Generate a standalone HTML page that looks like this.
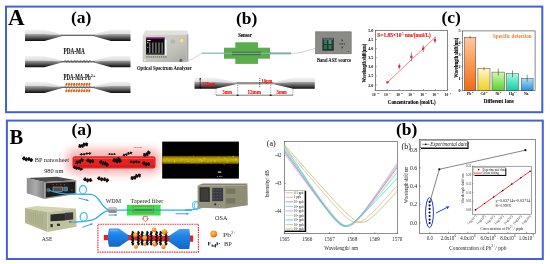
<!DOCTYPE html>
<html><head><meta charset="utf-8">
<style>
html,body{margin:0;padding:0;background:#fff;width:550px;height:264px;overflow:hidden}
svg{display:block;filter:blur(0.35px)}
text{font-family:"Liberation Serif",serif}
.b{font-weight:bold}
.s{font-family:"Liberation Sans",sans-serif}
</style></head><body>
<svg width="550" height="264" viewBox="0 0 550 264">
<defs>
<linearGradient id="fib" x1="0" y1="0" x2="0" y2="1">
<stop offset="0" stop-color="#f2f2f2"/><stop offset="0.38" stop-color="#d6d6d6"/><stop offset="0.55" stop-color="#9a9a9a"/><stop offset="1" stop-color="#141414"/>
</linearGradient>
<linearGradient id="fibU" x1="0" y1="0" x2="0" y2="1"><stop offset="0" stop-color="#f4f4f4"/><stop offset="1" stop-color="#d4d4d4"/></linearGradient>
<linearGradient id="fibL" x1="0" y1="0" x2="0" y2="1"><stop offset="0" stop-color="#a8a8a8"/><stop offset="0.5" stop-color="#5a5a5a"/><stop offset="1" stop-color="#0c0c0c"/></linearGradient>
<linearGradient id="osaF" x1="0" y1="0" x2="1" y2="1"><stop offset="0" stop-color="#d8d8d2"/><stop offset="0.6" stop-color="#c4c4be"/><stop offset="1" stop-color="#a8a8a2"/></linearGradient>
<linearGradient id="bar1" x1="0" y1="0" x2="0" y2="1"><stop offset="0" stop-color="#ffc9a0"/><stop offset="1" stop-color="#f26a10"/></linearGradient>
<linearGradient id="bar2" x1="0" y1="0" x2="0" y2="1"><stop offset="0" stop-color="#fff6c8"/><stop offset="1" stop-color="#f0d020"/></linearGradient>
<linearGradient id="bar3" x1="0" y1="0" x2="0" y2="1"><stop offset="0" stop-color="#d8f8b0"/><stop offset="1" stop-color="#58d030"/></linearGradient>
<linearGradient id="bar4" x1="0" y1="0" x2="0" y2="1"><stop offset="0" stop-color="#a8f8e0"/><stop offset="1" stop-color="#10d0a0"/></linearGradient>
<linearGradient id="bar5" x1="0" y1="0" x2="0" y2="1"><stop offset="0" stop-color="#b0e0f8"/><stop offset="1" stop-color="#2890e0"/></linearGradient>
</defs>

<rect x="6" y="6.6" width="536.3" height="105.6" fill="none" stroke="#4361d8" stroke-width="2"/>
<rect x="6.9" y="120.6" width="535.9" height="138.4" fill="none" stroke="#4361d8" stroke-width="2"/>
<text x="8" y="24.6" font-size="23" class="b">A</text>
<text x="9.6" y="143.5" font-size="20.5" class="b">B</text>
<text x="71" y="23.2" font-size="17.5" class="b">(a)</text>
<text x="236" y="24" font-size="17.5" class="b">(b)</text>
<text x="441.5" y="23.2" font-size="17.5" class="b">(c)</text>
<text x="71.5" y="135.2" font-size="17.5" class="b">(a)</text>
<text x="396" y="135" font-size="17.5" class="b">(b)</text>
<path d="M25,29.70 L44.5,29.70 L62.5,34.55 L93,34.55 L111,29.70 L130.5,29.70 L130.5,34.10 L111,34.10 L93,35.30 L62.5,35.30 L44.5,34.10 L25,34.10 Z" fill="url(#fibU)"/><path d="M25,34.10 L44.5,34.10 L62.5,35.30 L93,35.30 L111,34.10 L130.5,34.10 L130.5,40.90 L111,40.90 L93,36.05 L62.5,36.05 L44.5,40.90 L25,40.90 Z" fill="url(#fibL)"/><line x1="60.5" y1="35.30" x2="95" y2="35.30" stroke="#6a6a6a" stroke-width="1.35"/>
<path d="M25,56.00 L44.5,56.00 L62.5,60.85 L93,60.85 L111,56.00 L130.5,56.00 L130.5,60.40 L111,60.40 L93,61.60 L62.5,61.60 L44.5,60.40 L25,60.40 Z" fill="url(#fibU)"/><path d="M25,60.40 L44.5,60.40 L62.5,61.60 L93,61.60 L111,60.40 L130.5,60.40 L130.5,67.20 L111,67.20 L93,62.35 L62.5,62.35 L44.5,67.20 L25,67.20 Z" fill="url(#fibL)"/><line x1="60.5" y1="61.60" x2="95" y2="61.60" stroke="#6a6a6a" stroke-width="1.35"/>
<path d="M25,81.70 L44.5,81.70 L62.5,86.55 L93,86.55 L111,81.70 L130.5,81.70 L130.5,86.10 L111,86.10 L93,87.30 L62.5,87.30 L44.5,86.10 L25,86.10 Z" fill="url(#fibU)"/><path d="M25,86.10 L44.5,86.10 L62.5,87.30 L93,87.30 L111,86.10 L130.5,86.10 L130.5,92.90 L111,92.90 L93,88.05 L62.5,88.05 L44.5,92.90 L25,92.90 Z" fill="url(#fibL)"/><line x1="60.5" y1="87.30" x2="95" y2="87.30" stroke="#6a6a6a" stroke-width="1.35"/>
<text x="63.6" y="54.3" font-size="7.4" class="b" textLength="21.2" lengthAdjust="spacingAndGlyphs" fill="#111" stroke="#111" stroke-width="0.12">PDA-MA</text>
<text x="63.6" y="79.6" font-size="7.4" class="b" textLength="27" lengthAdjust="spacingAndGlyphs" fill="#111" stroke="#111" stroke-width="0.12">PDA-MA-Pb</text>
<text x="90.8" y="76.6" font-size="4.2" class="b">2+</text>
<polyline points="64.30,61.40 64.55,60.77 64.80,60.30 65.05,60.10 65.30,60.23 65.55,60.66 65.80,61.27 66.05,61.91 66.30,62.43 66.55,62.69 66.80,62.62 67.05,62.25 67.30,61.66 67.55,61.01 67.80,60.46 68.05,60.14 68.30,60.14 68.55,60.46 68.80,61.01 69.05,61.66 69.30,62.25 69.55,62.62 69.80,62.69 70.05,62.43 70.30,61.91 70.55,61.27 70.80,60.66 71.05,60.23 71.30,60.10 71.55,60.30 71.80,60.77 72.05,61.40 72.30,62.03 72.55,62.50 72.80,62.70 73.05,62.57 73.30,62.14 73.55,61.53 73.80,60.89 74.05,60.37 74.30,60.11 74.55,60.18 74.80,60.55 75.05,61.14 75.30,61.79 75.55,62.34 75.80,62.66 76.05,62.66 76.30,62.34 76.55,61.79 76.80,61.14 77.05,60.55 77.30,60.18 77.55,60.11 77.80,60.37 78.05,60.89 78.30,61.53 78.55,62.14 78.80,62.57 79.05,62.70 79.30,62.50 79.55,62.03 79.80,61.40 80.05,60.77 80.30,60.30 80.55,60.10 80.80,60.23 81.05,60.66 81.30,61.27 81.55,61.91 81.80,62.43 82.05,62.69 82.30,62.62 82.55,62.25 82.80,61.66 83.05,61.01 83.30,60.46 83.55,60.14 83.80,60.14 84.05,60.46 84.30,61.01 84.55,61.66 84.80,62.25 85.05,62.62 85.30,62.69 85.55,62.43 85.80,61.91 86.05,61.27 86.30,60.66 86.55,60.23 86.80,60.10 87.05,60.30 87.30,60.77 87.55,61.40 87.80,62.03 88.05,62.50 88.30,62.70 88.55,62.57 88.80,62.14 89.05,61.53 89.30,60.89 89.55,60.37 89.80,60.11 90.05,60.18 90.30,60.55 90.55,61.14" fill="none" stroke="#585858" stroke-width="0.55"/>
<circle cx="67" cy="60.5" r="0.45" fill="#3a8a4a"/>
<circle cx="71.5" cy="62.6" r="0.45" fill="#c83828"/>
<circle cx="75.8" cy="60.5" r="0.45" fill="#c83828"/>
<circle cx="80.2" cy="62.6" r="0.45" fill="#3a8a4a"/>
<circle cx="84.6" cy="60.5" r="0.45" fill="#c83828"/>
<circle cx="88.5" cy="62.6" r="0.45" fill="#c83828"/>
<polyline points="64.30,87.40 64.55,86.82 64.80,86.38 65.05,86.20 65.30,86.32 65.55,86.71 65.80,87.28 66.05,87.87 66.30,88.35 66.55,88.59 66.80,88.53 67.05,88.18 67.30,87.64 67.55,87.04 67.80,86.53 68.05,86.24 68.30,86.24 68.55,86.53 68.80,87.04 69.05,87.64 69.30,88.18 69.55,88.53 69.80,88.59 70.05,88.35 70.30,87.87 70.55,87.28 70.80,86.71 71.05,86.32 71.30,86.20 71.55,86.38 71.80,86.82 72.05,87.40 72.30,87.98 72.55,88.42 72.80,88.60 73.05,88.48 73.30,88.09 73.55,87.52 73.80,86.93 74.05,86.45 74.30,86.21 74.55,86.27 74.80,86.62 75.05,87.16 75.30,87.76 75.55,88.27 75.80,88.56 76.05,88.56 76.30,88.27 76.55,87.76 76.80,87.16 77.05,86.62 77.30,86.27 77.55,86.21 77.80,86.45 78.05,86.93 78.30,87.52 78.55,88.09 78.80,88.48 79.05,88.60 79.30,88.42 79.55,87.98 79.80,87.40 80.05,86.82 80.30,86.38 80.55,86.20 80.80,86.32 81.05,86.71 81.30,87.28 81.55,87.87 81.80,88.35 82.05,88.59 82.30,88.53 82.55,88.18 82.80,87.64 83.05,87.04 83.30,86.53 83.55,86.24 83.80,86.24 84.05,86.53 84.30,87.04 84.55,87.64 84.80,88.18 85.05,88.53 85.30,88.59 85.55,88.35 85.80,87.87 86.05,87.28 86.30,86.71 86.55,86.32 86.80,86.20 87.05,86.38 87.30,86.82 87.55,87.40 87.80,87.98 88.05,88.42 88.30,88.60 88.55,88.48 88.80,88.09 89.05,87.52 89.30,86.93 89.55,86.45 89.80,86.21 90.05,86.27 90.30,86.62 90.55,87.16" fill="none" stroke="#606060" stroke-width="0.5"/>
<ellipse cx="66.40" cy="84.3" rx="1.05" ry="1.6" fill="#d4681a" transform="rotate(20 66.40 84.3)"/>
<ellipse cx="68.95" cy="84.3" rx="1.05" ry="1.6" fill="#d4681a" transform="rotate(20 68.95 84.3)"/>
<ellipse cx="71.50" cy="84.3" rx="1.05" ry="1.6" fill="#d4681a" transform="rotate(20 71.50 84.3)"/>
<ellipse cx="74.05" cy="84.3" rx="1.05" ry="1.6" fill="#d4681a" transform="rotate(20 74.05 84.3)"/>
<ellipse cx="76.60" cy="84.3" rx="1.05" ry="1.6" fill="#d4681a" transform="rotate(20 76.60 84.3)"/>
<ellipse cx="79.15" cy="84.3" rx="1.05" ry="1.6" fill="#d4681a" transform="rotate(20 79.15 84.3)"/>
<ellipse cx="81.70" cy="84.3" rx="1.05" ry="1.6" fill="#d4681a" transform="rotate(20 81.70 84.3)"/>
<ellipse cx="84.25" cy="84.3" rx="1.05" ry="1.6" fill="#d4681a" transform="rotate(20 84.25 84.3)"/>
<ellipse cx="86.80" cy="84.3" rx="1.05" ry="1.6" fill="#d4681a" transform="rotate(20 86.80 84.3)"/>
<ellipse cx="89.35" cy="84.3" rx="1.05" ry="1.6" fill="#d4681a" transform="rotate(20 89.35 84.3)"/>
<ellipse cx="66.40" cy="90.7" rx="1.05" ry="1.6" fill="#d4681a" transform="rotate(20 66.40 90.7)"/>
<ellipse cx="68.95" cy="90.7" rx="1.05" ry="1.6" fill="#d4681a" transform="rotate(20 68.95 90.7)"/>
<ellipse cx="71.50" cy="90.7" rx="1.05" ry="1.6" fill="#d4681a" transform="rotate(20 71.50 90.7)"/>
<ellipse cx="74.05" cy="90.7" rx="1.05" ry="1.6" fill="#d4681a" transform="rotate(20 74.05 90.7)"/>
<ellipse cx="76.60" cy="90.7" rx="1.05" ry="1.6" fill="#d4681a" transform="rotate(20 76.60 90.7)"/>
<ellipse cx="79.15" cy="90.7" rx="1.05" ry="1.6" fill="#d4681a" transform="rotate(20 79.15 90.7)"/>
<ellipse cx="81.70" cy="90.7" rx="1.05" ry="1.6" fill="#d4681a" transform="rotate(20 81.70 90.7)"/>
<ellipse cx="84.25" cy="90.7" rx="1.05" ry="1.6" fill="#d4681a" transform="rotate(20 84.25 90.7)"/>
<ellipse cx="86.80" cy="90.7" rx="1.05" ry="1.6" fill="#d4681a" transform="rotate(20 86.80 90.7)"/>
<ellipse cx="89.35" cy="90.7" rx="1.05" ry="1.6" fill="#d4681a" transform="rotate(20 89.35 90.7)"/>
<path d="M143.5,34.6 L145,30.6 L187.2,30.6 L188.4,34.6 Z" fill="#e2e2dc"/>
<rect x="142.7" y="34.5" width="44" height="27.6" fill="url(#osaF)"/>
<path d="M186.6,34.5 L188.4,34.6 L188.4,61.6 L186.6,62.1 Z" fill="#a8a8a2"/>
<rect x="146.1" y="37.5" width="18.5" height="17.1" fill="#0a0a0a"/>
<rect x="146.1" y="37.5" width="18.5" height="1.0" fill="#e020c0"/>
<g fill="#8a8a8a"><rect x="149.0" y="42.5" width="1.4" height="10.5" opacity="0.85"/><rect x="152.1" y="42.5" width="1.4" height="10.5" opacity="0.85"/><rect x="155.2" y="42.5" width="1.4" height="10.5" opacity="0.85"/><rect x="158.3" y="42.5" width="1.4" height="10.5" opacity="0.85"/><rect x="161.4" y="42.5" width="1.4" height="10.5" opacity="0.85"/></g>
<rect x="147.2" y="40" width="3.5" height="1" fill="#e0e0e0"/><rect x="147.2" y="42" width="1.2" height="1.2" fill="#d0d0d0"/><rect x="147.2" y="47" width="1.2" height="0.8" fill="#b0b0b0"/>
<rect x="147" y="53.6" width="17" height="0.6" fill="#707070"/>
<rect x="164.8" y="39.6" width="1.8" height="15.7" fill="#f4f4f4"/>
<circle cx="181.6" cy="40.6" r="2.5" fill="#e8e0a0" stroke="#b0a870" stroke-width="0.5"/>
<circle cx="172.8" cy="41.6" r="1.8" fill="#b8b8b2" stroke="#a0a09a" stroke-width="0.4"/>
<g fill="#555"><rect x="146.3" y="56.4" width="1.3" height="1.1"/><rect x="148.4" y="56.4" width="1.3" height="1.1"/><rect x="150.5" y="56.4" width="1.3" height="1.1"/><rect x="152.6" y="56.4" width="1.3" height="1.1"/><rect x="154.7" y="56.4" width="1.3" height="1.1"/><rect x="156.8" y="56.4" width="1.3" height="1.1"/><rect x="158.9" y="56.4" width="1.3" height="1.1"/><rect x="161.0" y="56.4" width="1.3" height="1.1"/><rect x="163.1" y="56.4" width="1.3" height="1.1"/><rect x="165.2" y="56.4" width="1.3" height="1.1"/></g>
<circle cx="144.9" cy="60" r="1" fill="#f0f0c0"/>
<circle cx="180.9" cy="60.4" r="1.6" fill="#606060"/>
<text x="136.9" y="70.4" font-size="6.4" class="b" textLength="54.9" lengthAdjust="spacingAndGlyphs">Optical Spectrum Analyzer</text>
<path d="M182,61 C190,62 195,57 201.8,53.3" fill="none" stroke="#b8c0c0" stroke-width="0.7"/>
<line x1="201.8" y1="53.3" x2="291" y2="53.3" stroke="#9cc0c8" stroke-width="1.5"/>
<line x1="270" y1="53.5" x2="291" y2="53.5" stroke="#80b0a8" stroke-width="1.8"/>
<path d="M291,53.4 C300,53.5 306,51 316,48" fill="none" stroke="#b8c0c0" stroke-width="0.7"/>
<text x="238.2" y="37.3" font-size="5.6" class="b" textLength="13.6" lengthAdjust="spacingAndGlyphs" stroke="#000" stroke-width="0.12">Sensor</text>
<rect x="224" y="47.7" width="46" height="11" fill="#5aac4c"/>
<rect x="235.3" y="42.3" width="22.7" height="21.6" fill="#5aac4c"/>
<rect x="232" y="51.6" width="29" height="3.6" fill="#3c6a34" opacity="0.8"/>
<line x1="224" y1="53.3" x2="270" y2="53.3" stroke="#8cb8c0" stroke-width="0.9"/>
<rect x="315.6" y="31.8" width="35.6" height="22" fill="#8a8a86" stroke="#6a6a66" stroke-width="0.6"/>
<rect x="322.4" y="37.9" width="11.4" height="12.9" fill="#2a3430"/>
<rect x="324" y="40" width="3" height="4" fill="#2c7a58"/><rect x="328.5" y="40" width="3" height="4" fill="#5a8a80"/>
<rect x="324" y="45" width="3" height="4" fill="#2a7050"/><rect x="328.5" y="45" width="3" height="4" fill="#2a7a5a"/>
<rect x="323.2" y="38.6" width="9.8" height="0.8" fill="#9ab0b0"/>
<g fill="#333"><rect x="341.6" y="39.5" width="1.2" height="1.8"/><rect x="339.5" y="43.3" width="1.2" height="1.2"/><rect x="341.6" y="43.3" width="1.2" height="1.2"/><rect x="343.7" y="43.3" width="1.2" height="1.2"/><rect x="341.6" y="46.5" width="1.2" height="1.8"/><rect x="348.2" y="51" width="0.8" height="0.8"/></g>
<text x="317" y="62.1" font-size="6.4" class="b" textLength="34" lengthAdjust="spacingAndGlyphs">Band ASE source</text>
<path d="M194.5,77.80 L215.5,77.80 L237.1,82.50 L272.8,82.50 L293.2,77.80 L314.8,77.80 L314.8,82.00 L293.2,82.00 L272.8,83.30 L237.1,83.30 L215.5,82.00 L194.5,82.00 Z" fill="url(#fibU)"/><path d="M194.5,82.00 L215.5,82.00 L237.1,83.30 L272.8,83.30 L293.2,82.00 L314.8,82.00 L314.8,88.80 L293.2,88.80 L272.8,84.10 L237.1,84.10 L215.5,88.80 L194.5,88.80 Z" fill="url(#fibL)"/><line x1="235.1" y1="83.30" x2="274.8" y2="83.30" stroke="#9a9a9a" stroke-width="1.44"/>
<line x1="237" y1="82.5" x2="273" y2="82.5" stroke="#555" stroke-width="0.4"/><line x1="237" y1="84.1" x2="273" y2="84.1" stroke="#555" stroke-width="0.4"/>
<path d="M236.3,95.2 L237.7,94.4 L239.1,95.2 L237.7,96 Z M269.3,95.2 L270.7,94.4 L272.1,95.2 L270.7,96 Z" fill="#111"/>
<line x1="200.2" y1="78" x2="200.2" y2="88.6" stroke="#000" stroke-width="0.6"/>
<path d="M199.3,79.3 L200.2,77.8 L201.1,79.3 Z M199.3,87.3 L200.2,88.8 L201.1,87.3 Z" fill="#000"/>
<text x="202" y="85.9" font-size="5.4" class="b" fill="#ee1111" stroke="#ee1111" stroke-width="0.15" textLength="13.3" lengthAdjust="spacingAndGlyphs">125μm</text>
<line x1="259.8" y1="78" x2="259.8" y2="88" stroke="#000" stroke-width="0.6" stroke-dasharray="1.2,0.8"/>
<text x="261.4" y="82.6" font-size="5.4" class="b" fill="#ee1111" stroke="#ee1111" stroke-width="0.15" textLength="10.8" lengthAdjust="spacingAndGlyphs">10μm</text>
<line x1="216" y1="85" x2="216" y2="95.3" stroke="#333" stroke-width="0.5" stroke-dasharray="1,0.8"/>
<line x1="237.7" y1="85" x2="237.7" y2="95.3" stroke="#333" stroke-width="0.5" stroke-dasharray="1,0.8"/>
<line x1="270.7" y1="85" x2="270.7" y2="95.3" stroke="#333" stroke-width="0.5" stroke-dasharray="1,0.8"/>
<line x1="292.9" y1="85" x2="292.9" y2="95.3" stroke="#333" stroke-width="0.5" stroke-dasharray="1,0.8"/>
<line x1="216" y1="95.2" x2="293" y2="95.2" stroke="#222" stroke-width="0.6"/>
<text x="222.5" y="93.7" font-size="5.4" class="b" fill="#ee1111" stroke="#ee1111" stroke-width="0.15" textLength="9.5" lengthAdjust="spacingAndGlyphs">3mm</text>
<text x="247.4" y="93.7" font-size="5.4" class="b" fill="#ee1111" stroke="#ee1111" stroke-width="0.15" textLength="13.5" lengthAdjust="spacingAndGlyphs">12mm</text>
<text x="276.6" y="93.7" font-size="5.4" class="b" fill="#ee1111" stroke="#ee1111" stroke-width="0.15" textLength="10.2" lengthAdjust="spacingAndGlyphs">3mm</text>
<rect x="375.5" y="30.5" width="72" height="60" fill="none" stroke="#555" stroke-width="0.7"/>
<line x1="375.5" y1="30.4" x2="377" y2="30.4" stroke="#555" stroke-width="0.5"/>
<text x="373.4" y="31.9" font-size="4.2" class="b" text-anchor="end">5.0</text>
<line x1="375.5" y1="39.5" x2="377" y2="39.5" stroke="#555" stroke-width="0.5"/>
<text x="373.4" y="41.0" font-size="4.2" class="b" text-anchor="end">4.5</text>
<line x1="375.5" y1="48.6" x2="377" y2="48.6" stroke="#555" stroke-width="0.5"/>
<text x="373.4" y="50.1" font-size="4.2" class="b" text-anchor="end">4.0</text>
<line x1="375.5" y1="57.7" x2="377" y2="57.7" stroke="#555" stroke-width="0.5"/>
<text x="373.4" y="59.2" font-size="4.2" class="b" text-anchor="end">3.5</text>
<line x1="375.5" y1="66.8" x2="377" y2="66.8" stroke="#555" stroke-width="0.5"/>
<text x="373.4" y="68.3" font-size="4.2" class="b" text-anchor="end">3.0</text>
<line x1="375.5" y1="75.9" x2="377" y2="75.9" stroke="#555" stroke-width="0.5"/>
<text x="373.4" y="77.4" font-size="4.2" class="b" text-anchor="end">2.5</text>
<line x1="375.5" y1="85.0" x2="377" y2="85.0" stroke="#555" stroke-width="0.5"/>
<text x="373.4" y="86.5" font-size="4.2" class="b" text-anchor="end">2.0</text>
<line x1="375.0" y1="90.5" x2="375.0" y2="89" stroke="#555" stroke-width="0.5"/>
<text x="373.8" y="95.6" font-size="3.6" class="b" text-anchor="middle">10</text><text x="376.4" y="93.6" font-size="2.2" class="b">-10</text>
<line x1="387.1" y1="90.5" x2="387.1" y2="89" stroke="#555" stroke-width="0.5"/>
<text x="385.9" y="95.6" font-size="3.6" class="b" text-anchor="middle">10</text><text x="388.5" y="93.6" font-size="2.2" class="b">-9</text>
<line x1="399.2" y1="90.5" x2="399.2" y2="89" stroke="#555" stroke-width="0.5"/>
<text x="398.0" y="95.6" font-size="3.6" class="b" text-anchor="middle">10</text><text x="400.6" y="93.6" font-size="2.2" class="b">-8</text>
<line x1="411.3" y1="90.5" x2="411.3" y2="89" stroke="#555" stroke-width="0.5"/>
<text x="410.1" y="95.6" font-size="3.6" class="b" text-anchor="middle">10</text><text x="412.7" y="93.6" font-size="2.2" class="b">-7</text>
<line x1="423.4" y1="90.5" x2="423.4" y2="89" stroke="#555" stroke-width="0.5"/>
<text x="422.2" y="95.6" font-size="3.6" class="b" text-anchor="middle">10</text><text x="424.8" y="93.6" font-size="2.2" class="b">-6</text>
<line x1="435.5" y1="90.5" x2="435.5" y2="89" stroke="#555" stroke-width="0.5"/>
<text x="434.3" y="95.6" font-size="3.6" class="b" text-anchor="middle">10</text><text x="436.9" y="93.6" font-size="2.2" class="b">-5</text>
<line x1="447.6" y1="90.5" x2="447.6" y2="89" stroke="#555" stroke-width="0.5"/>
<text x="446.4" y="95.6" font-size="3.6" class="b" text-anchor="middle">10</text><text x="449.0" y="93.6" font-size="2.2" class="b">-4</text>
<text transform="translate(365.5,63.1) rotate(-90)" font-size="5.8" class="b" text-anchor="middle" textLength="38.7" lengthAdjust="spacingAndGlyphs" stroke="#000" stroke-width="0.1">Wavelength shift(nm)</text>
<text x="387.8" y="103.6" font-size="5.8" class="b" textLength="47.9" lengthAdjust="spacingAndGlyphs" stroke="#000" stroke-width="0.1">Concentration (mol/L)</text>
<line x1="386.8" y1="83" x2="435.7" y2="36.8" stroke="#f03030" stroke-width="0.6"/>
<rect x="386.4" y="81.2" width="2.2" height="2.2" fill="#e02020"/>
<line x1="399.3" y1="63.650000000000006" x2="399.3" y2="69.15" stroke="#3060c0" stroke-width="0.7"/>
<rect x="398.2" y="65.30000000000001" width="2.2" height="2.2" fill="#e02020"/>
<line x1="411.4" y1="52.449999999999996" x2="411.4" y2="61.15" stroke="#3060c0" stroke-width="0.7"/>
<rect x="410.29999999999995" y="55.699999999999996" width="2.2" height="2.2" fill="#e02020"/>
<line x1="423.2" y1="45.2" x2="423.2" y2="52.0" stroke="#3060c0" stroke-width="0.7"/>
<rect x="422.09999999999997" y="47.5" width="2.2" height="2.2" fill="#e02020"/>
<line x1="435" y1="37.0" x2="435" y2="43.400000000000006" stroke="#3060c0" stroke-width="0.7"/>
<rect x="433.9" y="39.1" width="2.2" height="2.2" fill="#e02020"/>
<text x="377.3" y="37.2" font-size="5.2" class="b" fill="#ee1111" stroke="#ee1111" stroke-width="0.12" textLength="24.3" lengthAdjust="spacingAndGlyphs">S=1.85×10</text>
<text x="401.9" y="35" font-size="3.2" class="b" fill="#ee1111">5</text>
<text x="405.1" y="37.2" font-size="5.2" class="b" fill="#ee1111" stroke="#ee1111" stroke-width="0.12" textLength="25.6" lengthAdjust="spacingAndGlyphs">nm/(mol/L)</text>
<rect x="462.6" y="30.9" width="72.5" height="59.5" fill="none" stroke="#555" stroke-width="0.7"/>
<line x1="462.6" y1="90.4" x2="461.4" y2="90.4" stroke="#555" stroke-width="0.5"/>
<text x="460.6" y="91.9" font-size="4.2" class="b" text-anchor="end">0</text>
<line x1="462.6" y1="78.5" x2="461.4" y2="78.5" stroke="#555" stroke-width="0.5"/>
<text x="460.6" y="80.0" font-size="4.2" class="b" text-anchor="end">1</text>
<line x1="462.6" y1="66.6" x2="461.4" y2="66.6" stroke="#555" stroke-width="0.5"/>
<text x="460.6" y="68.1" font-size="4.2" class="b" text-anchor="end">2</text>
<line x1="462.6" y1="54.7" x2="461.4" y2="54.7" stroke="#555" stroke-width="0.5"/>
<text x="460.6" y="56.2" font-size="4.2" class="b" text-anchor="end">3</text>
<line x1="462.6" y1="42.8" x2="461.4" y2="42.8" stroke="#555" stroke-width="0.5"/>
<text x="460.6" y="44.3" font-size="4.2" class="b" text-anchor="end">4</text>
<line x1="462.6" y1="30.9" x2="461.4" y2="30.9" stroke="#555" stroke-width="0.5"/>
<text x="460.6" y="32.4" font-size="4.2" class="b" text-anchor="end">5</text>
<rect x="464.4" y="37.2" width="11.40" height="53.20" fill="url(#bar1)" stroke="#333" stroke-width="0.45"/>
<line x1="470.10" y1="35.88" x2="470.10" y2="38.52" stroke="#222" stroke-width="0.5"/>
<text x="469.1" y="95.2" font-size="3.8" class="b" text-anchor="middle">Pb</text><text x="471.9" y="93.4" font-size="2.3" class="b">2+</text>
<rect x="477.9" y="68.5" width="12.10" height="21.90" fill="url(#bar2)" stroke="#333" stroke-width="0.45"/>
<line x1="483.95" y1="66.74" x2="483.95" y2="70.26" stroke="#222" stroke-width="0.5"/>
<text x="482.9" y="95.2" font-size="3.8" class="b" text-anchor="middle">Cd</text><text x="485.8" y="93.4" font-size="2.3" class="b">2+</text>
<rect x="492" y="72.1" width="12.60" height="18.30" fill="url(#bar3)" stroke="#333" stroke-width="0.45"/>
<line x1="498.30" y1="68.58" x2="498.30" y2="75.62" stroke="#222" stroke-width="0.5"/>
<text x="497.3" y="95.2" font-size="3.8" class="b" text-anchor="middle">Ni</text><text x="500.1" y="93.4" font-size="2.3" class="b">2+</text>
<rect x="506.5" y="73.75" width="12.00" height="16.65" fill="url(#bar4)" stroke="#333" stroke-width="0.45"/>
<line x1="512.50" y1="70.45" x2="512.50" y2="77.05" stroke="#222" stroke-width="0.5"/>
<text x="511.5" y="95.2" font-size="3.8" class="b" text-anchor="middle">Hg</text><text x="514.3" y="93.4" font-size="2.3" class="b">2+</text>
<rect x="521.25" y="78.3" width="11.85" height="12.10" fill="url(#bar5)" stroke="#333" stroke-width="0.45"/>
<line x1="527.17" y1="74.78" x2="527.17" y2="81.82" stroke="#222" stroke-width="0.5"/>
<text x="526.2" y="95.2" font-size="3.8" class="b" text-anchor="middle">Na</text><text x="529.0" y="93.4" font-size="2.3" class="b">+</text>
<text x="483.8" y="103.3" font-size="5.6" class="b" textLength="30" lengthAdjust="spacingAndGlyphs" stroke="#000" stroke-width="0.1">Different Ions</text>
<text transform="translate(458.4,57.7) rotate(-90)" font-size="5.6" class="b" text-anchor="middle" textLength="40" lengthAdjust="spacingAndGlyphs" stroke="#000" stroke-width="0.1">Wavelength shift(nm)</text>
<text x="493" y="38.3" font-size="5.2" class="b" fill="#f08030" textLength="38.6" lengthAdjust="spacingAndGlyphs">Specific detection</text>
<defs><filter id="soft" x="-10%" y="-30%" width="120%" height="160%"><feGaussianBlur stdDeviation="0.7"/></filter><filter id="glow" x="-30%" y="-150%" width="160%" height="400%"><feGaussianBlur stdDeviation="4"/></filter><linearGradient id="cone" x1="0" y1="0" x2="0" y2="1"><stop offset="0" stop-color="#4aa0f0"/><stop offset="0.35" stop-color="#1e84e8"/><stop offset="1" stop-color="#1466c8"/></linearGradient><radialGradient id="ball" cx="0.4" cy="0.35" r="0.7"><stop offset="0" stop-color="#ffc860"/><stop offset="0.6" stop-color="#f09020"/><stop offset="1" stop-color="#c86010"/></radialGradient><linearGradient id="laserSide" x1="0" y1="0" x2="1" y2="0"><stop offset="0" stop-color="#8c8c8c"/><stop offset="0.5" stop-color="#ababab"/><stop offset="1" stop-color="#7a7a7a"/></linearGradient><linearGradient id="yband" x1="0" y1="0" x2="0" y2="1"><stop offset="0" stop-color="#2a1800"/><stop offset="0.13" stop-color="#9a6200"/><stop offset="0.3" stop-color="#a89c00"/><stop offset="0.5" stop-color="#b8b408"/><stop offset="0.7" stop-color="#a49a00"/><stop offset="0.87" stop-color="#9a6000"/><stop offset="1" stop-color="#2a1800"/></linearGradient></defs>
<rect x="66" y="149" width="95" height="25" rx="10" fill="#f04848" opacity="0.42" filter="url(#glow)"/>
<rect x="72.5" y="156.3" width="83" height="12.3" rx="2.5" fill="#e42424" filter="url(#soft)"/>
<rect x="74" y="157.8" width="80" height="1.2" fill="#ff6060" opacity="0.7"/>
<rect x="74" y="165.5" width="80" height="1" fill="#b01010" opacity="0.6"/>
<g transform="rotate(-20 83.3 145.2)"><line x1="78.80" y1="145.20" x2="87.80" y2="145.20" stroke="#111" stroke-width="1.46" stroke-linecap="round"/><ellipse cx="79.92" cy="144.86" rx="1.29" ry="2.07" fill="#111"/><ellipse cx="82.17" cy="145.54" rx="1.29" ry="2.07" fill="#111"/><ellipse cx="84.42" cy="144.86" rx="1.29" ry="2.07" fill="#111"/><ellipse cx="86.67" cy="145.54" rx="1.29" ry="2.07" fill="#111"/></g>
<g transform="rotate(-8 85.5 153.9)"><line x1="80.00" y1="153.90" x2="91.00" y2="153.90" stroke="#111" stroke-width="0.91" stroke-linecap="round"/><ellipse cx="81.38" cy="153.69" rx="0.81" ry="1.30" fill="#111"/><ellipse cx="84.12" cy="154.11" rx="0.81" ry="1.30" fill="#111"/><ellipse cx="86.88" cy="153.69" rx="0.81" ry="1.30" fill="#111"/><ellipse cx="89.62" cy="154.11" rx="0.81" ry="1.30" fill="#111"/></g>
<g transform="rotate(-25 79.6 161.5)"><line x1="75.60" y1="161.50" x2="83.60" y2="161.50" stroke="#111" stroke-width="1.46" stroke-linecap="round"/><ellipse cx="76.93" cy="161.16" rx="1.29" ry="2.07" fill="#111"/><ellipse cx="79.60" cy="161.84" rx="1.29" ry="2.07" fill="#111"/><ellipse cx="82.27" cy="161.16" rx="1.29" ry="2.07" fill="#111"/></g>
<g transform="rotate(10 90.2 161.0)"><line x1="86.70" y1="161.00" x2="93.70" y2="161.00" stroke="#111" stroke-width="1.46" stroke-linecap="round"/><ellipse cx="87.87" cy="160.66" rx="1.29" ry="2.07" fill="#111"/><ellipse cx="90.20" cy="161.34" rx="1.29" ry="2.07" fill="#111"/><ellipse cx="92.53" cy="160.66" rx="1.29" ry="2.07" fill="#111"/></g>
<g transform="rotate(20 104.0 163.3)"><line x1="99.50" y1="163.30" x2="108.50" y2="163.30" stroke="#111" stroke-width="1.46" stroke-linecap="round"/><ellipse cx="100.62" cy="162.96" rx="1.29" ry="2.07" fill="#111"/><ellipse cx="102.88" cy="163.64" rx="1.29" ry="2.07" fill="#111"/><ellipse cx="105.12" cy="162.96" rx="1.29" ry="2.07" fill="#111"/><ellipse cx="107.38" cy="163.64" rx="1.29" ry="2.07" fill="#111"/></g>
<g transform="rotate(-15 116.5 160.0)"><line x1="113.00" y1="160.00" x2="120.00" y2="160.00" stroke="#111" stroke-width="1.46" stroke-linecap="round"/><ellipse cx="114.17" cy="159.66" rx="1.29" ry="2.07" fill="#111"/><ellipse cx="116.50" cy="160.34" rx="1.29" ry="2.07" fill="#111"/><ellipse cx="118.83" cy="159.66" rx="1.29" ry="2.07" fill="#111"/></g>
<g transform="rotate(15 77.7 168.2)"><line x1="73.20" y1="168.20" x2="82.20" y2="168.20" stroke="#111" stroke-width="1.09" stroke-linecap="round"/><ellipse cx="74.33" cy="167.95" rx="0.97" ry="1.55" fill="#111"/><ellipse cx="76.58" cy="168.45" rx="0.97" ry="1.55" fill="#111"/><ellipse cx="78.83" cy="167.95" rx="0.97" ry="1.55" fill="#111"/><ellipse cx="81.08" cy="168.45" rx="0.97" ry="1.55" fill="#111"/></g>
<g transform="rotate(-20 127.5 154.0)"><line x1="122.70" y1="154.00" x2="132.20" y2="154.00" stroke="#111" stroke-width="1.00" stroke-linecap="round"/><ellipse cx="123.89" cy="153.77" rx="0.89" ry="1.42" fill="#111"/><ellipse cx="126.26" cy="154.23" rx="0.89" ry="1.42" fill="#111"/><ellipse cx="128.64" cy="153.77" rx="0.89" ry="1.42" fill="#111"/><ellipse cx="131.01" cy="154.23" rx="0.89" ry="1.42" fill="#111"/></g>
<g transform="rotate(-30 146.9 154.0)"><line x1="143.40" y1="154.00" x2="150.40" y2="154.00" stroke="#111" stroke-width="1.46" stroke-linecap="round"/><ellipse cx="144.57" cy="153.66" rx="1.29" ry="2.07" fill="#111"/><ellipse cx="146.90" cy="154.34" rx="1.29" ry="2.07" fill="#111"/><ellipse cx="149.23" cy="153.66" rx="1.29" ry="2.07" fill="#111"/></g>
<g transform="rotate(5 117.2 161.0)"><line x1="113.20" y1="161.00" x2="121.20" y2="161.00" stroke="#111" stroke-width="1.46" stroke-linecap="round"/><ellipse cx="114.53" cy="160.66" rx="1.29" ry="2.07" fill="#111"/><ellipse cx="117.20" cy="161.34" rx="1.29" ry="2.07" fill="#111"/><ellipse cx="119.87" cy="160.66" rx="1.29" ry="2.07" fill="#111"/></g>
<g transform="rotate(0 134.9 162.0)"><line x1="129.90" y1="162.00" x2="139.90" y2="162.00" stroke="#111" stroke-width="1.00" stroke-linecap="round"/><ellipse cx="131.15" cy="161.77" rx="0.89" ry="1.42" fill="#111"/><ellipse cx="133.65" cy="162.23" rx="0.89" ry="1.42" fill="#111"/><ellipse cx="136.15" cy="161.77" rx="0.89" ry="1.42" fill="#111"/><ellipse cx="138.65" cy="162.23" rx="0.89" ry="1.42" fill="#111"/></g>
<g transform="rotate(10 146.1 164.0)"><line x1="142.60" y1="164.00" x2="149.60" y2="164.00" stroke="#111" stroke-width="1.46" stroke-linecap="round"/><ellipse cx="143.77" cy="163.66" rx="1.29" ry="2.07" fill="#111"/><ellipse cx="146.10" cy="164.34" rx="1.29" ry="2.07" fill="#111"/><ellipse cx="148.43" cy="163.66" rx="1.29" ry="2.07" fill="#111"/></g>
<g transform="rotate(-25 135.7 176.8)"><line x1="130.70" y1="176.80" x2="140.70" y2="176.80" stroke="#111" stroke-width="1.46" stroke-linecap="round"/><ellipse cx="131.95" cy="176.46" rx="1.29" ry="2.07" fill="#111"/><ellipse cx="134.45" cy="177.14" rx="1.29" ry="2.07" fill="#111"/><ellipse cx="136.95" cy="176.46" rx="1.29" ry="2.07" fill="#111"/><ellipse cx="139.45" cy="177.14" rx="1.29" ry="2.07" fill="#111"/></g>
<g transform="rotate(0 112.0 154.2)"><line x1="108.50" y1="154.20" x2="115.50" y2="154.20" stroke="#111" stroke-width="0.73" stroke-linecap="round"/><ellipse cx="109.67" cy="154.03" rx="0.64" ry="1.04" fill="#111"/><ellipse cx="112.00" cy="154.37" rx="0.64" ry="1.04" fill="#111"/><ellipse cx="114.33" cy="154.03" rx="0.64" ry="1.04" fill="#111"/></g>
<g transform="rotate(8 87.7 180.0)"><line x1="83.70" y1="180.00" x2="91.70" y2="180.00" stroke="#111" stroke-width="1.46" stroke-linecap="round"/><ellipse cx="85.03" cy="179.66" rx="1.29" ry="2.07" fill="#111"/><ellipse cx="87.70" cy="180.34" rx="1.29" ry="2.07" fill="#111"/><ellipse cx="90.37" cy="179.66" rx="1.29" ry="2.07" fill="#111"/></g>
<g transform="rotate(10 103.1 179.3)"><line x1="97.60" y1="179.30" x2="108.60" y2="179.30" stroke="#111" stroke-width="1.46" stroke-linecap="round"/><ellipse cx="98.97" cy="178.96" rx="1.29" ry="2.07" fill="#111"/><ellipse cx="101.72" cy="179.64" rx="1.29" ry="2.07" fill="#111"/><ellipse cx="104.47" cy="178.96" rx="1.29" ry="2.07" fill="#111"/><ellipse cx="107.22" cy="179.64" rx="1.29" ry="2.07" fill="#111"/></g>
<g transform="rotate(8 78.4 168.4)"><line x1="73.90" y1="168.40" x2="82.90" y2="168.40" stroke="#111" stroke-width="0.82" stroke-linecap="round"/><ellipse cx="75.03" cy="168.21" rx="0.72" ry="1.17" fill="#111"/><ellipse cx="77.28" cy="168.59" rx="0.72" ry="1.17" fill="#111"/><ellipse cx="79.53" cy="168.21" rx="0.72" ry="1.17" fill="#111"/><ellipse cx="81.78" cy="168.59" rx="0.72" ry="1.17" fill="#111"/></g>
<g transform="rotate(0 137.9 147.5)"><line x1="133.90" y1="147.50" x2="141.90" y2="147.50" stroke="#888" stroke-width="0.46" stroke-linecap="round"/><ellipse cx="135.23" cy="147.40" rx="0.40" ry="0.65" fill="#888"/><ellipse cx="137.90" cy="147.60" rx="0.40" ry="0.65" fill="#888"/><ellipse cx="140.57" cy="147.40" rx="0.40" ry="0.65" fill="#888"/></g>
<g transform="rotate(8 27.6 159.2)"><line x1="22.60" y1="159.20" x2="32.60" y2="159.20" stroke="#111" stroke-width="1.46" stroke-linecap="round"/><ellipse cx="23.85" cy="158.86" rx="1.29" ry="2.07" fill="#111"/><ellipse cx="26.35" cy="159.54" rx="1.29" ry="2.07" fill="#111"/><ellipse cx="28.85" cy="158.86" rx="1.29" ry="2.07" fill="#111"/><ellipse cx="31.35" cy="159.54" rx="1.29" ry="2.07" fill="#111"/></g>
<text x="34.7" y="161.5" font-size="6.6" textLength="34.4" lengthAdjust="spacingAndGlyphs" fill="#222">BP nanosheet</text>
<text x="44.2" y="172.7" font-size="6.6" textLength="19.2" lengthAdjust="spacingAndGlyphs" fill="#222">980 nm</text>
<rect x="162.2" y="141.6" width="76.7" height="37" fill="#000"/>
<rect x="162.2" y="155.6" width="76.7" height="8.6" fill="url(#yband)"/>
<g><rect x="187.3" y="161.2" width="1.4" height="0.7" fill="#c8d020" opacity="0.45"/><rect x="206.7" y="161.7" width="0.8" height="0.7" fill="#d8e060" opacity="0.44"/><rect x="194.4" y="160.0" width="1.4" height="0.7" fill="#c8d020" opacity="0.46"/><rect x="179.7" y="161.8" width="1.2" height="0.7" fill="#a0a800" opacity="0.43"/><rect x="206.9" y="160.9" width="1.5" height="0.7" fill="#d8e060" opacity="0.54"/><rect x="173.8" y="160.2" width="1.2" height="0.7" fill="#c8d020" opacity="0.68"/><rect x="214.2" y="161.5" width="1.0" height="0.7" fill="#d8e040" opacity="0.67"/><rect x="167.7" y="161.1" width="1.2" height="0.7" fill="#c8d020" opacity="0.65"/><rect x="202.9" y="160.2" width="1.0" height="0.7" fill="#a8b000" opacity="0.52"/><rect x="176.5" y="158.2" width="0.7" height="0.7" fill="#d8e040" opacity="0.55"/><rect x="200.1" y="159.0" width="1.6" height="0.7" fill="#d8e060" opacity="0.46"/><rect x="194.4" y="161.3" width="0.8" height="0.7" fill="#c0c010" opacity="0.64"/><rect x="165.9" y="158.6" width="1.4" height="0.7" fill="#d8e060" opacity="0.81"/><rect x="188.5" y="157.7" width="1.2" height="0.7" fill="#c0c010" opacity="0.69"/><rect x="197.2" y="161.8" width="1.3" height="0.7" fill="#a8b000" opacity="0.43"/><rect x="217.8" y="156.9" width="1.2" height="0.7" fill="#c0c010" opacity="0.90"/><rect x="224.6" y="159.6" width="0.9" height="0.7" fill="#a0a800" opacity="0.87"/><rect x="189.7" y="161.3" width="0.7" height="0.7" fill="#d8e060" opacity="0.43"/><rect x="220.6" y="160.7" width="1.5" height="0.7" fill="#a8b000" opacity="0.65"/><rect x="175.5" y="160.7" width="1.1" height="0.7" fill="#a8b000" opacity="0.84"/><rect x="224.4" y="160.7" width="1.6" height="0.7" fill="#a8b000" opacity="0.74"/><rect x="191.5" y="159.0" width="0.8" height="0.7" fill="#d8e040" opacity="0.49"/><rect x="180.4" y="160.1" width="0.8" height="0.7" fill="#d8e060" opacity="0.54"/><rect x="173.9" y="161.6" width="1.0" height="0.7" fill="#d8e060" opacity="0.68"/><rect x="234.5" y="159.2" width="1.3" height="0.7" fill="#d8e060" opacity="0.77"/><rect x="197.2" y="158.2" width="1.4" height="0.7" fill="#a0a800" opacity="0.60"/><rect x="192.9" y="161.6" width="0.8" height="0.7" fill="#c8d020" opacity="0.89"/><rect x="196.0" y="161.2" width="0.9" height="0.7" fill="#c8d020" opacity="0.43"/><rect x="163.0" y="160.3" width="1.2" height="0.7" fill="#c0c010" opacity="0.44"/><rect x="178.6" y="160.5" width="0.7" height="0.7" fill="#a8b000" opacity="0.53"/><rect x="189.1" y="159.4" width="1.6" height="0.7" fill="#a8b000" opacity="0.63"/><rect x="199.3" y="160.5" width="0.7" height="0.7" fill="#c8d020" opacity="0.77"/><rect x="218.5" y="157.6" width="0.6" height="0.7" fill="#d8e060" opacity="0.88"/><rect x="202.6" y="160.2" width="1.3" height="0.7" fill="#d8e040" opacity="0.86"/><rect x="219.9" y="159.3" width="1.3" height="0.7" fill="#c8d020" opacity="0.53"/><rect x="190.5" y="162.0" width="1.0" height="0.7" fill="#d8e040" opacity="0.51"/><rect x="203.6" y="157.8" width="1.4" height="0.7" fill="#d8e060" opacity="0.89"/><rect x="226.9" y="159.9" width="1.4" height="0.7" fill="#d8e040" opacity="0.77"/><rect x="180.0" y="158.5" width="1.6" height="0.7" fill="#c8d020" opacity="0.80"/><rect x="198.4" y="159.7" width="1.3" height="0.7" fill="#d8e040" opacity="0.88"/><rect x="196.5" y="164.0" width="0.7" height="0.7" fill="#c0c010" opacity="0.45"/><rect x="198.3" y="158.2" width="0.8" height="0.7" fill="#c0c010" opacity="0.71"/><rect x="230.5" y="160.8" width="0.9" height="0.7" fill="#a0a800" opacity="0.72"/><rect x="225.6" y="158.5" width="1.5" height="0.7" fill="#c8d020" opacity="0.79"/><rect x="219.3" y="159.0" width="0.9" height="0.7" fill="#a0a800" opacity="0.80"/><rect x="235.9" y="160.0" width="1.1" height="0.7" fill="#a8b000" opacity="0.77"/><rect x="169.4" y="162.5" width="0.8" height="0.7" fill="#c8d020" opacity="0.85"/><rect x="223.5" y="163.9" width="1.2" height="0.7" fill="#d8e040" opacity="0.70"/><rect x="198.6" y="160.7" width="0.7" height="0.7" fill="#d8e060" opacity="0.41"/><rect x="235.8" y="159.6" width="0.7" height="0.7" fill="#a0a800" opacity="0.77"/><rect x="173.4" y="160.9" width="0.6" height="0.7" fill="#d8e040" opacity="0.51"/><rect x="200.6" y="159.8" width="0.9" height="0.7" fill="#d8e060" opacity="0.67"/><rect x="225.6" y="162.2" width="1.3" height="0.7" fill="#a8b000" opacity="0.81"/><rect x="201.8" y="160.8" width="0.7" height="0.7" fill="#d8e060" opacity="0.48"/><rect x="201.3" y="161.7" width="0.6" height="0.7" fill="#d8e060" opacity="0.80"/><rect x="175.9" y="158.0" width="1.2" height="0.7" fill="#a8b000" opacity="0.46"/><rect x="167.6" y="159.1" width="1.4" height="0.7" fill="#a8b000" opacity="0.45"/><rect x="205.0" y="158.2" width="0.8" height="0.7" fill="#d8e040" opacity="0.42"/><rect x="170.3" y="159.6" width="1.0" height="0.7" fill="#c8d020" opacity="0.71"/><rect x="200.9" y="160.0" width="0.8" height="0.7" fill="#d8e060" opacity="0.54"/><rect x="201.1" y="160.5" width="1.3" height="0.7" fill="#d8e040" opacity="0.84"/><rect x="233.7" y="158.2" width="1.5" height="0.7" fill="#c0c010" opacity="0.85"/><rect x="178.2" y="158.4" width="1.0" height="0.7" fill="#a8b000" opacity="0.44"/><rect x="181.0" y="160.4" width="0.8" height="0.7" fill="#c8d020" opacity="0.55"/><rect x="172.2" y="160.5" width="1.3" height="0.7" fill="#a0a800" opacity="0.47"/><rect x="229.2" y="156.4" width="0.8" height="0.7" fill="#a8b000" opacity="0.88"/><rect x="192.9" y="155.4" width="0.8" height="0.7" fill="#d8e040" opacity="0.62"/><rect x="201.7" y="160.3" width="1.0" height="0.7" fill="#c0c010" opacity="0.58"/><rect x="169.9" y="159.0" width="1.0" height="0.7" fill="#a8b000" opacity="0.41"/><rect x="187.9" y="160.9" width="0.9" height="0.7" fill="#d8e060" opacity="0.88"/><rect x="171.5" y="160.8" width="0.7" height="0.7" fill="#c8d020" opacity="0.54"/><rect x="230.9" y="159.4" width="0.9" height="0.7" fill="#d8e040" opacity="0.46"/><rect x="194.7" y="162.3" width="1.0" height="0.7" fill="#c0c010" opacity="0.67"/><rect x="201.6" y="158.4" width="1.3" height="0.7" fill="#a8b000" opacity="0.44"/><rect x="167.3" y="159.3" width="0.9" height="0.7" fill="#c8d020" opacity="0.41"/><rect x="169.6" y="158.4" width="0.7" height="0.7" fill="#c0c010" opacity="0.83"/><rect x="168.0" y="161.0" width="1.6" height="0.7" fill="#c0c010" opacity="0.61"/><rect x="231.7" y="158.6" width="0.7" height="0.7" fill="#d8e060" opacity="0.66"/><rect x="180.9" y="160.6" width="0.8" height="0.7" fill="#c8d020" opacity="0.87"/><rect x="210.2" y="160.5" width="1.4" height="0.7" fill="#d8e060" opacity="0.54"/><rect x="200.5" y="160.5" width="1.6" height="0.7" fill="#c8d020" opacity="0.42"/><rect x="164.4" y="161.1" width="1.2" height="0.7" fill="#d8e060" opacity="0.49"/><rect x="198.6" y="160.6" width="1.0" height="0.7" fill="#a0a800" opacity="0.65"/><rect x="225.6" y="159.6" width="1.6" height="0.7" fill="#a8b000" opacity="0.55"/><rect x="179.1" y="160.0" width="1.3" height="0.7" fill="#a0a800" opacity="0.47"/><rect x="237.2" y="160.9" width="1.4" height="0.7" fill="#c8d020" opacity="0.41"/><rect x="209.9" y="161.1" width="0.7" height="0.7" fill="#c8d020" opacity="0.82"/><rect x="228.3" y="158.8" width="1.6" height="0.7" fill="#a0a800" opacity="0.70"/><rect x="215.0" y="160.8" width="1.0" height="0.7" fill="#c0c010" opacity="0.53"/><rect x="235.1" y="160.2" width="0.9" height="0.7" fill="#d8e060" opacity="0.42"/><rect x="229.2" y="160.1" width="1.0" height="0.7" fill="#c0c010" opacity="0.64"/><rect x="200.7" y="160.8" width="0.8" height="0.7" fill="#d8e040" opacity="0.79"/><rect x="169.8" y="160.2" width="0.6" height="0.7" fill="#d8e060" opacity="0.41"/><rect x="185.8" y="159.1" width="0.7" height="0.7" fill="#d8e040" opacity="0.88"/><rect x="227.0" y="161.7" width="1.0" height="0.7" fill="#d8e060" opacity="0.56"/><rect x="236.9" y="162.5" width="0.9" height="0.7" fill="#d8e040" opacity="0.71"/><rect x="173.9" y="161.0" width="1.2" height="0.7" fill="#d8e060" opacity="0.77"/><rect x="223.9" y="157.8" width="1.5" height="0.7" fill="#d8e040" opacity="0.78"/><rect x="205.6" y="160.0" width="1.2" height="0.7" fill="#a0a800" opacity="0.85"/><rect x="214.2" y="159.7" width="1.2" height="0.7" fill="#a0a800" opacity="0.44"/><rect x="166.1" y="157.4" width="1.4" height="0.7" fill="#a8b000" opacity="0.68"/><rect x="210.1" y="157.0" width="1.1" height="0.7" fill="#a0a800" opacity="0.52"/><rect x="182.8" y="159.3" width="1.5" height="0.7" fill="#d8e060" opacity="0.45"/><rect x="202.4" y="160.1" width="1.3" height="0.7" fill="#a0a800" opacity="0.53"/><rect x="168.6" y="159.7" width="0.8" height="0.7" fill="#d8e040" opacity="0.72"/><rect x="197.5" y="162.3" width="0.7" height="0.7" fill="#a8b000" opacity="0.86"/><rect x="184.5" y="161.9" width="0.7" height="0.7" fill="#d8e040" opacity="0.47"/><rect x="182.0" y="160.5" width="1.3" height="0.7" fill="#a0a800" opacity="0.71"/><rect x="173.0" y="158.2" width="0.7" height="0.7" fill="#a0a800" opacity="0.51"/><rect x="199.7" y="160.1" width="1.1" height="0.7" fill="#a0a800" opacity="0.63"/><rect x="198.0" y="162.2" width="0.9" height="0.7" fill="#d8e040" opacity="0.44"/><rect x="198.5" y="162.1" width="1.1" height="0.7" fill="#c0c010" opacity="0.81"/><rect x="235.6" y="158.8" width="1.5" height="0.7" fill="#d8e040" opacity="0.87"/><rect x="168.6" y="160.3" width="0.7" height="0.7" fill="#c8d020" opacity="0.66"/><rect x="234.5" y="161.8" width="0.9" height="0.7" fill="#d8e060" opacity="0.46"/><rect x="190.4" y="162.0" width="1.5" height="0.7" fill="#a8b000" opacity="0.64"/><rect x="164.9" y="161.6" width="1.0" height="0.7" fill="#a8b000" opacity="0.76"/><rect x="194.2" y="159.9" width="0.9" height="0.7" fill="#a8b000" opacity="0.82"/><rect x="163.1" y="159.9" width="1.5" height="0.7" fill="#c8d020" opacity="0.50"/><rect x="163.9" y="157.0" width="0.9" height="0.7" fill="#a0a800" opacity="0.59"/><rect x="192.5" y="161.9" width="1.5" height="0.7" fill="#c0c010" opacity="0.78"/><rect x="227.1" y="159.9" width="0.7" height="0.7" fill="#c0c010" opacity="0.82"/><rect x="184.4" y="160.9" width="1.0" height="0.7" fill="#c0c010" opacity="0.56"/><rect x="221.0" y="159.5" width="1.5" height="0.7" fill="#a8b000" opacity="0.81"/><rect x="210.3" y="163.0" width="0.8" height="0.7" fill="#d8e060" opacity="0.44"/><rect x="233.0" y="158.1" width="1.1" height="0.7" fill="#a8b000" opacity="0.78"/><rect x="211.3" y="159.8" width="0.7" height="0.7" fill="#d8e060" opacity="0.64"/><rect x="188.8" y="160.4" width="0.9" height="0.7" fill="#c0c010" opacity="0.77"/><rect x="212.0" y="159.0" width="1.2" height="0.7" fill="#a8b000" opacity="0.60"/><rect x="175.5" y="160.5" width="0.7" height="0.7" fill="#d8e040" opacity="0.65"/><rect x="223.9" y="158.3" width="1.6" height="0.7" fill="#c0c010" opacity="0.62"/><rect x="173.5" y="159.4" width="0.8" height="0.7" fill="#d8e040" opacity="0.49"/><rect x="204.7" y="159.3" width="0.8" height="0.7" fill="#d8e060" opacity="0.41"/><rect x="228.3" y="161.2" width="1.0" height="0.7" fill="#a8b000" opacity="0.66"/><rect x="191.3" y="159.6" width="1.2" height="0.7" fill="#c0c010" opacity="0.58"/><rect x="214.5" y="160.4" width="1.2" height="0.7" fill="#d8e060" opacity="0.83"/><rect x="179.2" y="159.8" width="1.2" height="0.7" fill="#a8b000" opacity="0.62"/><rect x="186.4" y="161.0" width="0.7" height="0.7" fill="#c8d020" opacity="0.61"/><rect x="220.3" y="161.2" width="0.6" height="0.7" fill="#a8b000" opacity="0.60"/><rect x="232.5" y="156.2" width="1.5" height="0.7" fill="#d8e060" opacity="0.89"/></g>
<rect x="217.8" y="171.6" width="3.6" height="1" fill="#fff"/>
<text x="219.6" y="176.6" font-size="2.8" fill="#ddd" text-anchor="middle">5 μm</text>
<path d="M26.8,178 L57,176.8 L76.3,180.3 L44.5,182 Z" fill="#4c4c4c"/>
<path d="M26.8,178 L44.5,182 L44.5,199 L26.8,193.3 Z" fill="url(#laserSide)"/>
<path d="M44.5,182 L76.3,180.3 L76.3,193.9 L44.5,199 Z" fill="#8c8c8c"/>
<path d="M46,183.3 L75,181.8 L75,192.9 L46,197.5 Z" fill="#1c1c1c"/>
<circle cx="53" cy="184.6" r="0.7" fill="#ff2020"/>
<circle cx="56.8" cy="184.6" r="0.7" fill="#ff2020"/>
<circle cx="60.6" cy="184.6" r="0.7" fill="#ff2020"/>
<circle cx="64.4" cy="184.6" r="0.7" fill="#ff2020"/>
<rect x="53" y="187" width="9.6" height="4.4" fill="#4a5058" stroke="#a8a8a8" stroke-width="0.6"/>
<rect x="63.8" y="187" width="3.8" height="4" fill="#3a7898" stroke="#8aa8b8" stroke-width="0.4"/>
<circle cx="48.4" cy="190" r="1.8" fill="#555" stroke="#999" stroke-width="0.4"/>
<circle cx="72" cy="190" r="1.3" fill="#333"/>
<path d="M25,207.9 L36.6,206 L76,208.5 L47.5,212.1 Z" fill="#d2d4b2"/>
<path d="M25,207.9 L47.5,212.1 L47.5,232.1 L25,223 Z" fill="#b2b690"/>
<path d="M47.5,212.1 L76,208.5 L76.6,226.7 L47.5,232.1 Z" fill="#bec29e"/>
<path d="M50.5,214.5 L65.1,213.3 L65.1,220.4 L50.5,221.2 Z" fill="#2a2a2a"/>
<path d="M65.1,212.7 L73.2,212.2 L73.2,219.6 L65.1,220.2 Z" fill="#3a3a3a"/>
<rect x="50.5" y="224" width="2.2" height="3.2" fill="#2a2a2a"/><rect x="57" y="223.7" width="3" height="2.2" fill="#2a2a2a"/>
<rect x="69.2" y="221" width="2" height="1.6" fill="#d03020"/>
<g stroke="#9a9a7a" stroke-width="0.5"><line x1="29.0" y1="212.0" x2="29.0" y2="222.0"/><line x1="31.2" y1="212.4" x2="31.2" y2="222.8"/><line x1="33.4" y1="212.8" x2="33.4" y2="223.6"/><line x1="35.6" y1="213.2" x2="35.6" y2="224.4"/><line x1="37.8" y1="213.6" x2="37.8" y2="225.2"/><line x1="40.0" y1="214.0" x2="40.0" y2="226.0"/><line x1="42.2" y1="214.4" x2="42.2" y2="226.8"/></g>
<text x="41.8" y="241.2" font-size="7" textLength="10.6" lengthAdjust="spacingAndGlyphs" fill="#222">ASE</text>
<path d="M48.4,190 C55,193 65,194.2 75,194.2 L91,194.4 C100,195 101,208.5 109,209.8" fill="none" stroke="#2aaee8" stroke-width="1.25"/>
<ellipse cx="83" cy="189.7" rx="3.5" ry="4.2" fill="none" stroke="#4cc0f0" stroke-width="1.3"/>
<path d="M70.5,222 C75,222.3 85,221.6 92.8,219.8 C100,217.5 101,211.3 109,210.6" fill="none" stroke="#2aaee8" stroke-width="1.25"/>
<ellipse cx="83.7" cy="216.9" rx="3.5" ry="4.2" fill="none" stroke="#4cc0f0" stroke-width="1.3"/>
<line x1="116.8" y1="210.1" x2="192" y2="210.1" stroke="#2aaee8" stroke-width="1.3"/>
<path d="M185,210.1 C192,210 196,209.6 200,208 C204,206.5 208,204.5 213.2,203.7" fill="none" stroke="#2aaee8" stroke-width="1.25"/>
<ellipse cx="195.4" cy="205.2" rx="3.1" ry="4.0" fill="none" stroke="#4cc0f0" stroke-width="1.0"/>
<ellipse cx="197.4" cy="205.2" rx="3.1" ry="4.0" fill="none" stroke="#4cc0f0" stroke-width="1.0"/>
<line x1="78.6" y1="198" x2="88.5" y2="200.6" stroke="#3a8fe0" stroke-width="0.9"/>
<path d="M88.50,200.60 L86.65,198.98 L86.09,201.11 Z" fill="#3a8fe0"/>
<line x1="82.4" y1="227.3" x2="92.5" y2="223.8" stroke="#3a8fe0" stroke-width="0.9"/>
<path d="M92.50,223.80 L90.06,223.48 L90.78,225.56 Z" fill="#3a8fe0"/>
<line x1="108.5" y1="215" x2="117" y2="215" stroke="#3a8fe0" stroke-width="0.9"/>
<path d="M117.00,215.00 L114.80,213.90 L114.80,216.10 Z" fill="#3a8fe0"/>
<line x1="175.6" y1="213.8" x2="188.7" y2="213.8" stroke="#3a8fe0" stroke-width="0.9"/>
<path d="M188.70,213.80 L186.50,212.70 L186.50,214.90 Z" fill="#3a8fe0"/>
<rect x="108.3" y="207.5" width="8.5" height="5.6" rx="1" fill="#909090"/>
<rect x="108.3" y="208" width="8.5" height="1.6" fill="#c8c8c8"/>
<text x="105.7" y="203.2" font-size="6.4" textLength="15.3" lengthAdjust="spacingAndGlyphs" fill="#222">WDM</text>
<rect x="126.9" y="204.8" width="33.7" height="10.7" fill="#3ee04a"/>
<line x1="126.9" y1="210.1" x2="160.6" y2="210.1" stroke="#22a0c8" stroke-width="1.2"/>
<rect x="134.5" y="208.9" width="18" height="2.2" fill="#2a5a2a" opacity="0.45"/>
<rect x="133.1" y="206.1" width="20.5" height="6.6" fill="none" stroke="#e03030" stroke-width="0.8" stroke-dasharray="1.2,0.8"/>
<text x="130.6" y="203.2" font-size="6.6" textLength="32.8" lengthAdjust="spacingAndGlyphs" fill="#222">Tapered fiber</text>
<path d="M143.6,216.4 L147.2,216.4 L147.2,218.6 L148.6,218.6 L145.4,221.6 L142.2,218.6 L143.6,218.6 Z" fill="#fff" stroke="#e03030" stroke-width="0.7"/>
<rect x="97.9" y="224.2" width="100.5" height="27.9" fill="none" stroke="#e03838" stroke-width="1.15" stroke-dasharray="1.6,0.8"/>
<path d="M103.8,235.1 L128,235.1 L169,236 L193.2,235.6 L193.2,241.8 L169,241.6 L128,240.3 L103.8,240.3 Z" fill="#e82020"/>
<path d="M109,228.4 L119,228.4 L128.5,235.2 L128.5,240.2 L119,246.8 L109,246.8 Q106.6,237.6 109,228.4 Z" fill="url(#cone)"/>
<path d="M189.2,229 L179.4,229 L169.1,235.8 L169.1,241.8 L179.4,248.9 L189.2,248.9 Q191.2,239 189.2,229 Z" fill="url(#cone)"/>
<rect x="110" y="230.2" width="8" height="1" fill="#8cc4f8" opacity="0.8"/>
<g><polyline points="132.15,231.40 133.25,232.78 132.15,234.16 133.25,235.54 132.15,236.92 133.25,238.30 132.15,239.68 133.25,241.06 132.15,242.44 133.25,243.82 132.15,245.20" fill="none" stroke="#111" stroke-width="1.9"/><polyline points="137.75,231.40 138.85,232.78 137.75,234.16 138.85,235.54 137.75,236.92 138.85,238.30 137.75,239.68 138.85,241.06 137.75,242.44 138.85,243.82 137.75,245.20" fill="none" stroke="#111" stroke-width="1.9"/><polyline points="141.55,231.40 142.65,232.78 141.55,234.16 142.65,235.54 141.55,236.92 142.65,238.30 141.55,239.68 142.65,241.06 141.55,242.44 142.65,243.82 141.55,245.20" fill="none" stroke="#111" stroke-width="1.9"/><polyline points="146.65,231.40 147.75,232.78 146.65,234.16 147.75,235.54 146.65,236.92 147.75,238.30 146.65,239.68 147.75,241.06 146.65,242.44 147.75,243.82 146.65,245.20" fill="none" stroke="#111" stroke-width="1.9"/><polyline points="150.55,231.40 151.65,232.78 150.55,234.16 151.65,235.54 150.55,236.92 151.65,238.30 150.55,239.68 151.65,241.06 150.55,242.44 151.65,243.82 150.55,245.20" fill="none" stroke="#111" stroke-width="1.9"/><polyline points="155.95,231.40 157.05,232.78 155.95,234.16 157.05,235.54 155.95,236.92 157.05,238.30 155.95,239.68 157.05,241.06 155.95,242.44 157.05,243.82 155.95,245.20" fill="none" stroke="#111" stroke-width="1.9"/><polyline points="159.95,231.40 161.05,232.78 159.95,234.16 161.05,235.54 159.95,236.92 161.05,238.30 159.95,239.68 161.05,241.06 159.95,242.44 161.05,243.82 159.95,245.20" fill="none" stroke="#111" stroke-width="1.9"/><polyline points="165.35,231.40 166.45,232.78 165.35,234.16 166.45,235.54 165.35,236.92 166.45,238.30 165.35,239.68 166.45,241.06 165.35,242.44 166.45,243.82 165.35,245.20" fill="none" stroke="#111" stroke-width="1.9"/></g>
<g fill="#ee2222"><rect x="134.6" y="236.8" width="1.6" height="2.6"/><rect x="140.1" y="236.8" width="1.6" height="2.6"/><rect x="144.6" y="236.8" width="1.6" height="2.6"/><rect x="149.1" y="236.8" width="1.6" height="2.6"/><rect x="153.8" y="236.8" width="1.6" height="2.6"/><rect x="158.4" y="236.8" width="1.6" height="2.6"/><rect x="163.0" y="236.8" width="1.6" height="2.6"/><rect x="167.6" y="236.8" width="1.6" height="2.6"/></g>
<circle cx="135.4" cy="234.9" r="2.4" fill="url(#ball)"/>
<circle cx="135.9" cy="246.7" r="2.0" fill="url(#ball)"/>
<circle cx="144.7" cy="237.8" r="2.5" fill="url(#ball)"/>
<circle cx="144.7" cy="244.2" r="1.5" fill="url(#ball)"/>
<circle cx="154.1" cy="229.9" r="2.3" fill="url(#ball)"/>
<circle cx="154.6" cy="244.2" r="2.3" fill="url(#ball)"/>
<circle cx="164.4" cy="231.9" r="2.6" fill="url(#ball)"/>
<circle cx="163.4" cy="246.7" r="2.2" fill="url(#ball)"/>
<path d="M197.6,185.5 L202.5,183.4 L247.4,183.4 L245,185.5 Z" fill="#8c8070"/>
<path d="M197.6,185.5 L225,185.5 L225,208.6 L197.6,207.8 Z" fill="#96967e"/>
<path d="M225,185.5 L245,185.5 L247.4,183.4 L247.8,205.2 L225,208.6 Z" fill="#8e8e76"/>
<rect x="199.5" y="187.3" width="10.3" height="14.5" fill="#2c2c2c"/>
<rect x="200.8" y="188.6" width="7.6" height="11.8" fill="#3c3c3c"/>
<rect x="212.2" y="187.9" width="10.9" height="13.3" fill="#3a3a42"/>
<g fill="#6a6a70"><rect x="213.5" y="189.3" width="1.2" height="0.9"/><rect x="216.7" y="189.3" width="1.2" height="0.9"/><rect x="219.9" y="189.3" width="1.2" height="0.9"/><rect x="213.5" y="192.3" width="1.2" height="0.9"/><rect x="216.7" y="192.3" width="1.2" height="0.9"/><rect x="219.9" y="192.3" width="1.2" height="0.9"/><rect x="213.5" y="195.3" width="1.2" height="0.9"/><rect x="216.7" y="195.3" width="1.2" height="0.9"/><rect x="219.9" y="195.3" width="1.2" height="0.9"/><rect x="213.5" y="198.3" width="1.2" height="0.9"/><rect x="216.7" y="198.3" width="1.2" height="0.9"/><rect x="219.9" y="198.3" width="1.2" height="0.9"/></g>
<rect x="226.2" y="188.5" width="9.1" height="5.5" fill="#7c7c66"/><rect x="226.2" y="198.2" width="9.1" height="5.5" fill="#7c7c66"/>
<g stroke="#6c6c58" stroke-width="0.4"><line x1="226.2" y1="189.2" x2="235.3" y2="189.2"/><line x1="226.2" y1="198.9" x2="235.3" y2="198.9"/><line x1="226.2" y1="190.4" x2="235.3" y2="190.4"/><line x1="226.2" y1="200.1" x2="235.3" y2="200.1"/><line x1="226.2" y1="191.6" x2="235.3" y2="191.6"/><line x1="226.2" y1="201.3" x2="235.3" y2="201.3"/><line x1="226.2" y1="192.8" x2="235.3" y2="192.8"/><line x1="226.2" y1="202.5" x2="235.3" y2="202.5"/></g>
<circle cx="219.5" cy="206" r="1.5" fill="#b0b0a0" stroke="#555" stroke-width="0.4"/>
<circle cx="215.2" cy="204.3" r="1.1" fill="#333"/>
<text x="215.1" y="220.2" font-size="6.4" textLength="12.3" lengthAdjust="spacingAndGlyphs" fill="#222">OSA</text>
<circle cx="213.7" cy="234" r="3.4" fill="url(#ball)"/>
<text x="223.1" y="236.6" font-size="6.6" textLength="8" lengthAdjust="spacingAndGlyphs" fill="#222">Pb</text>
<text x="231.2" y="233.8" font-size="3.8" fill="#222">2+</text>
<g fill="#1e3440"><rect x="208" y="242" width="1.3" height="3.4"/><rect x="209.6" y="242.6" width="1.2" height="0.8"/><rect x="211.6" y="244.6" width="1.4" height="2"/><rect x="213.4" y="245.2" width="1.2" height="1.6"/><rect x="214.8" y="244" width="1.3" height="3.4"/><rect x="216.6" y="242.2" width="1.3" height="3.2"/><circle cx="219.3" cy="243.6" r="0.6"/></g>
<text x="224" y="246.1" font-size="6" textLength="7.9" lengthAdjust="spacingAndGlyphs" fill="#333">BP</text>
<text x="266.8" y="145.6" font-size="8" fill="#111">(a)</text>
<rect x="284.3" y="141.4" width="113.0" height="92.3" fill="none" stroke="#444" stroke-width="0.6"/>
<line x1="284.3" y1="155.4" x2="285.8" y2="155.4" stroke="#444" stroke-width="0.5"/>
<text x="281.4" y="157.2" font-size="5.4" text-anchor="end" fill="#222" textLength="6.4" lengthAdjust="spacingAndGlyphs">-42</text>
<line x1="284.3" y1="183.5" x2="285.8" y2="183.5" stroke="#444" stroke-width="0.5"/>
<text x="281.4" y="185.3" font-size="5.4" text-anchor="end" fill="#222" textLength="6.4" lengthAdjust="spacingAndGlyphs">-43</text>
<line x1="284.3" y1="211.6" x2="285.8" y2="211.6" stroke="#444" stroke-width="0.5"/>
<text x="281.4" y="213.4" font-size="5.4" text-anchor="end" fill="#222" textLength="6.4" lengthAdjust="spacingAndGlyphs">-44</text>
<line x1="284.5" y1="233.7" x2="284.5" y2="232.2" stroke="#444" stroke-width="0.5"/>
<text x="284.5" y="240.9" font-size="5.9" text-anchor="middle" fill="#222" textLength="10.2" lengthAdjust="spacingAndGlyphs">1565</text>
<line x1="307.1" y1="233.7" x2="307.1" y2="232.2" stroke="#444" stroke-width="0.5"/>
<text x="307.1" y="240.9" font-size="5.9" text-anchor="middle" fill="#222" textLength="10.2" lengthAdjust="spacingAndGlyphs">1566</text>
<line x1="329.6" y1="233.7" x2="329.6" y2="232.2" stroke="#444" stroke-width="0.5"/>
<text x="329.6" y="240.9" font-size="5.9" text-anchor="middle" fill="#222" textLength="10.2" lengthAdjust="spacingAndGlyphs">1567</text>
<line x1="352.1" y1="233.7" x2="352.1" y2="232.2" stroke="#444" stroke-width="0.5"/>
<text x="352.1" y="240.9" font-size="5.9" text-anchor="middle" fill="#222" textLength="10.2" lengthAdjust="spacingAndGlyphs">1568</text>
<line x1="374.7" y1="233.7" x2="374.7" y2="232.2" stroke="#444" stroke-width="0.5"/>
<text x="374.7" y="240.9" font-size="5.9" text-anchor="middle" fill="#222" textLength="10.2" lengthAdjust="spacingAndGlyphs">1569</text>
<line x1="397.2" y1="233.7" x2="397.2" y2="232.2" stroke="#444" stroke-width="0.5"/>
<text x="397.2" y="240.9" font-size="5.9" text-anchor="middle" fill="#222" textLength="10.2" lengthAdjust="spacingAndGlyphs">1570</text>
<text x="324.2" y="249.5" font-size="5.8" fill="#222" textLength="33.8" lengthAdjust="spacingAndGlyphs">Wavelength/ nm</text>
<text transform="translate(269,184) rotate(-90)" font-size="5.4" text-anchor="middle" fill="#222" textLength="27.5" lengthAdjust="spacingAndGlyphs">Intensity/ dB</text>
<polyline points="284.3,149.5 285.3,150.9 286.3,152.3 287.3,153.7 288.3,155.1 289.3,156.6 290.3,158.0 291.3,159.4 292.3,160.8 293.3,162.2 294.3,163.6 295.3,165.0 296.3,166.4 297.3,167.8 298.3,169.2 299.3,170.6 300.3,172.0 301.3,173.4 302.3,174.8 303.3,176.2 304.3,177.6 305.3,179.0 306.3,180.4 307.3,181.8 308.3,183.1 309.3,184.5 310.3,185.9 311.3,187.3 312.3,188.7 313.3,190.0 314.3,191.4 315.3,192.8 316.3,194.1 317.3,195.5 318.3,196.8 319.3,198.2 320.3,199.5 321.3,200.9 322.3,202.2 323.3,203.5 324.3,204.8 325.3,206.1 326.3,207.4 327.3,208.7 328.3,210.0 329.3,211.2 330.3,212.5 331.3,213.7 332.3,214.9 333.3,216.0 334.3,217.2 335.3,218.3 336.3,219.4 337.3,220.4 338.3,221.3 339.3,222.3 340.3,223.1 341.3,223.8 342.3,224.5 343.3,225.1 344.3,225.5 345.3,225.8 346.3,226.0 347.3,226.0 348.3,225.9 349.3,225.6 350.3,225.2 351.3,224.6 352.3,224.0 353.3,223.2 354.3,222.4 355.3,221.4 356.3,220.4 357.3,219.3 358.3,218.2 359.3,217.0 360.3,215.8 361.3,214.6 362.3,213.3 363.3,212.0 364.3,210.7 365.3,209.4 366.3,208.0 367.3,206.7 368.3,205.3 369.3,203.9 370.3,202.5 371.3,201.1 372.3,199.7 373.3,198.2 374.3,196.8 375.3,195.4 376.3,193.9 377.3,192.5 378.3,191.0 379.3,189.5 380.3,188.1 381.3,186.6 382.3,185.1 383.3,183.7 384.3,182.2 385.3,180.7 386.3,179.2 387.3,177.7 388.3,176.3 389.3,174.8 390.3,173.3 391.3,171.8 392.3,170.3 393.3,168.8 394.3,167.3 395.3,165.8 396.3,164.3 397.3,162.8" fill="none" stroke="#b4b4b4" stroke-width="0.75"/>
<polyline points="284.3,153.5 285.3,154.9 286.3,156.2 287.3,157.6 288.3,158.9 289.3,160.3 290.3,161.6 291.3,163.0 292.3,164.3 293.3,165.7 294.3,167.0 295.3,168.4 296.3,169.7 297.3,171.1 298.3,172.4 299.3,173.8 300.3,175.1 301.3,176.4 302.3,177.8 303.3,179.1 304.3,180.5 305.3,181.8 306.3,183.1 307.3,184.5 308.3,185.8 309.3,187.1 310.3,188.4 311.3,189.8 312.3,191.1 313.3,192.4 314.3,193.7 315.3,195.0 316.3,196.3 317.3,197.6 318.3,198.9 319.3,200.2 320.3,201.5 321.3,202.8 322.3,204.1 323.3,205.3 324.3,206.6 325.3,207.8 326.3,209.1 327.3,210.3 328.3,211.5 329.3,212.7 330.3,213.9 331.3,215.0 332.3,216.2 333.3,217.3 334.3,218.4 335.3,219.4 336.3,220.4 337.3,221.4 338.3,222.3 339.3,223.1 340.3,223.9 341.3,224.6 342.3,225.1 343.3,225.6 344.3,226.0 345.3,226.2 346.3,226.3 347.3,226.3 348.3,226.1 349.3,225.7 350.3,225.3 351.3,224.7 352.3,224.0 353.3,223.2 354.3,222.3 355.3,221.4 356.3,220.4 357.3,219.3 358.3,218.2 359.3,217.1 360.3,215.9 361.3,214.7 362.3,213.4 363.3,212.2 364.3,210.9 365.3,209.6 366.3,208.3 367.3,207.0 368.3,205.6 369.3,204.3 370.3,202.9 371.3,201.5 372.3,200.2 373.3,198.8 374.3,197.4 375.3,196.0 376.3,194.6 377.3,193.2 378.3,191.8 379.3,190.4 380.3,188.9 381.3,187.5 382.3,186.1 383.3,184.7 384.3,183.3 385.3,181.8 386.3,180.4 387.3,178.9 388.3,177.5 389.3,176.1 390.3,174.6 391.3,173.2 392.3,171.7 393.3,170.3 394.3,168.8 395.3,167.4 396.3,166.0 397.3,164.5" fill="none" stroke="#f4a0a8" stroke-width="0.75"/>
<polyline points="284.3,150.8 285.3,152.2 286.3,153.6 287.3,155.1 288.3,156.5 289.3,157.9 290.3,159.3 291.3,160.7 292.3,162.2 293.3,163.6 294.3,165.0 295.3,166.4 296.3,167.8 297.3,169.2 298.3,170.7 299.3,172.1 300.3,173.5 301.3,174.9 302.3,176.3 303.3,177.7 304.3,179.1 305.3,180.5 306.3,181.9 307.3,183.3 308.3,184.7 309.3,186.1 310.3,187.5 311.3,188.9 312.3,190.2 313.3,191.6 314.3,193.0 315.3,194.4 316.3,195.7 317.3,197.1 318.3,198.5 319.3,199.8 320.3,201.2 321.3,202.5 322.3,203.8 323.3,205.2 324.3,206.5 325.3,207.8 326.3,209.1 327.3,210.3 328.3,211.6 329.3,212.9 330.3,214.1 331.3,215.3 332.3,216.5 333.3,217.6 334.3,218.7 335.3,219.8 336.3,220.8 337.3,221.8 338.3,222.7 339.3,223.6 340.3,224.3 341.3,225.0 342.3,225.5 343.3,226.0 344.3,226.3 345.3,226.5 346.3,226.5 347.3,226.4 348.3,226.1 349.3,225.8 350.3,225.3 351.3,224.7 352.3,224.0 353.3,223.2 354.3,222.3 355.3,221.4 356.3,220.4 357.3,219.4 358.3,218.3 359.3,217.2 360.3,216.1 361.3,214.9 362.3,213.8 363.3,212.6 364.3,211.3 365.3,210.1 366.3,208.9 367.3,207.6 368.3,206.3 369.3,205.1 370.3,203.8 371.3,202.5 372.3,201.2 373.3,199.9 374.3,198.6 375.3,197.2 376.3,195.9 377.3,194.6 378.3,193.3 379.3,191.9 380.3,190.6 381.3,189.2 382.3,187.9 383.3,186.6 384.3,185.2 385.3,183.9 386.3,182.5 387.3,181.1 388.3,179.8 389.3,178.4 390.3,177.1 391.3,175.7 392.3,174.3 393.3,173.0 394.3,171.6 395.3,170.2 396.3,168.9 397.3,167.5" fill="none" stroke="#6c9ce8" stroke-width="0.75"/>
<polyline points="284.3,148.2 285.3,149.7 286.3,151.2 287.3,152.7 288.3,154.1 289.3,155.6 290.3,157.1 291.3,158.6 292.3,160.1 293.3,161.6 294.3,163.0 295.3,164.5 296.3,166.0 297.3,167.5 298.3,168.9 299.3,170.4 300.3,171.9 301.3,173.4 302.3,174.8 303.3,176.3 304.3,177.8 305.3,179.2 306.3,180.7 307.3,182.2 308.3,183.6 309.3,185.1 310.3,186.5 311.3,188.0 312.3,189.4 313.3,190.8 314.3,192.3 315.3,193.7 316.3,195.1 317.3,196.6 318.3,198.0 319.3,199.4 320.3,200.8 321.3,202.2 322.3,203.6 323.3,205.0 324.3,206.3 325.3,207.7 326.3,209.0 327.3,210.4 328.3,211.7 329.3,213.0 330.3,214.2 331.3,215.5 332.3,216.7 333.3,217.9 334.3,219.0 335.3,220.1 336.3,221.2 337.3,222.2 338.3,223.1 339.3,223.9 340.3,224.7 341.3,225.3 342.3,225.8 343.3,226.2 344.3,226.5 345.3,226.6 346.3,226.6 347.3,226.4 348.3,226.1 349.3,225.7 350.3,225.2 351.3,224.6 352.3,224.0 353.3,223.2 354.3,222.4 355.3,221.5 356.3,220.6 357.3,219.7 358.3,218.7 359.3,217.7 360.3,216.7 361.3,215.6 362.3,214.5 363.3,213.4 364.3,212.3 365.3,211.2 366.3,210.1 367.3,208.9 368.3,207.8 369.3,206.6 370.3,205.4 371.3,204.2 372.3,203.1 373.3,201.9 374.3,200.7 375.3,199.5 376.3,198.3 377.3,197.1 378.3,195.9 379.3,194.7 380.3,193.4 381.3,192.2 382.3,191.0 383.3,189.8 384.3,188.6 385.3,187.3 386.3,186.1 387.3,184.9 388.3,183.6 389.3,182.4 390.3,181.2 391.3,179.9 392.3,178.7 393.3,177.5 394.3,176.2 395.3,175.0 396.3,173.7 397.3,172.5" fill="none" stroke="#70d8b8" stroke-width="0.75"/>
<polyline points="284.3,151.8 285.3,153.2 286.3,154.5 287.3,155.9 288.3,157.2 289.3,158.6 290.3,160.0 291.3,161.3 292.3,162.7 293.3,164.0 294.3,165.4 295.3,166.7 296.3,168.1 297.3,169.4 298.3,170.8 299.3,172.1 300.3,173.5 301.3,174.8 302.3,176.2 303.3,177.5 304.3,178.9 305.3,180.2 306.3,181.6 307.3,182.9 308.3,184.2 309.3,185.6 310.3,186.9 311.3,188.2 312.3,189.6 313.3,190.9 314.3,192.2 315.3,193.5 316.3,194.8 317.3,196.1 318.3,197.4 319.3,198.7 320.3,200.0 321.3,201.3 322.3,202.6 323.3,203.9 324.3,205.2 325.3,206.4 326.3,207.7 327.3,208.9 328.3,210.1 329.3,211.4 330.3,212.6 331.3,213.7 332.3,214.9 333.3,216.0 334.3,217.2 335.3,218.2 336.3,219.3 337.3,220.3 338.3,221.3 339.3,222.2 340.3,223.0 341.3,223.8 342.3,224.4 343.3,225.0 344.3,225.5 345.3,225.9 346.3,226.1 347.3,226.2 348.3,226.2 349.3,226.0 350.3,225.6 351.3,225.2 352.3,224.6 353.3,223.9 354.3,223.1 355.3,222.2 356.3,221.3 357.3,220.3 358.3,219.2 359.3,218.1 360.3,217.0 361.3,215.8 362.3,214.6 363.3,213.4 364.3,212.1 365.3,210.8 366.3,209.5 367.3,208.2 368.3,206.9 369.3,205.6 370.3,204.2 371.3,202.9 372.3,201.5 373.3,200.1 374.3,198.7 375.3,197.4 376.3,196.0 377.3,194.6 378.3,193.2 379.3,191.8 380.3,190.4 381.3,188.9 382.3,187.5 383.3,186.1 384.3,184.7 385.3,183.3 386.3,181.8 387.3,180.4 388.3,179.0 389.3,177.5 390.3,176.1 391.3,174.7 392.3,173.2 393.3,171.8 394.3,170.3 395.3,168.9 396.3,167.4 397.3,166.0" fill="none" stroke="#c890e8" stroke-width="0.75"/>
<polyline points="284.3,147.2 285.3,148.6 286.3,150.1 287.3,151.5 288.3,152.9 289.3,154.3 290.3,155.8 291.3,157.2 292.3,158.6 293.3,160.0 294.3,161.5 295.3,162.9 296.3,164.3 297.3,165.7 298.3,167.1 299.3,168.6 300.3,170.0 301.3,171.4 302.3,172.8 303.3,174.2 304.3,175.6 305.3,177.0 306.3,178.4 307.3,179.8 308.3,181.2 309.3,182.6 310.3,184.0 311.3,185.4 312.3,186.8 313.3,188.2 314.3,189.6 315.3,191.0 316.3,192.4 317.3,193.8 318.3,195.1 319.3,196.5 320.3,197.9 321.3,199.2 322.3,200.6 323.3,201.9 324.3,203.3 325.3,204.6 326.3,205.9 327.3,207.2 328.3,208.5 329.3,209.8 330.3,211.1 331.3,212.3 332.3,213.5 333.3,214.7 334.3,215.9 335.3,217.1 336.3,218.2 337.3,219.3 338.3,220.3 339.3,221.3 340.3,222.2 341.3,223.1 342.3,223.8 343.3,224.5 344.3,225.0 345.3,225.5 346.3,225.8 347.3,226.0 348.3,226.0 349.3,225.9 350.3,225.6 351.3,225.3 352.3,224.8 353.3,224.2 354.3,223.5 355.3,222.7 356.3,221.8 357.3,220.9 358.3,219.9 359.3,218.9 360.3,217.9 361.3,216.8 362.3,215.6 363.3,214.5 364.3,213.3 365.3,212.1 366.3,210.9 367.3,209.7 368.3,208.5 369.3,207.2 370.3,205.9 371.3,204.7 372.3,203.4 373.3,202.1 374.3,200.8 375.3,199.5 376.3,198.2 377.3,196.9 378.3,195.6 379.3,194.2 380.3,192.9 381.3,191.6 382.3,190.3 383.3,188.9 384.3,187.6 385.3,186.2 386.3,184.9 387.3,183.5 388.3,182.2 389.3,180.9 390.3,179.5 391.3,178.1 392.3,176.8 393.3,175.4 394.3,174.1 395.3,172.7 396.3,171.4 397.3,170.0" fill="none" stroke="#e8d890" stroke-width="0.75"/>
<polyline points="284.3,145.6 285.3,147.1 286.3,148.7 287.3,150.2 288.3,151.7 289.3,153.3 290.3,154.8 291.3,156.3 292.3,157.8 293.3,159.4 294.3,160.9 295.3,162.4 296.3,163.9 297.3,165.4 298.3,167.0 299.3,168.5 300.3,170.0 301.3,171.5 302.3,173.0 303.3,174.5 304.3,176.0 305.3,177.6 306.3,179.1 307.3,180.6 308.3,182.1 309.3,183.6 310.3,185.1 311.3,186.5 312.3,188.0 313.3,189.5 314.3,191.0 315.3,192.5 316.3,193.9 317.3,195.4 318.3,196.9 319.3,198.3 320.3,199.7 321.3,201.2 322.3,202.6 323.3,204.0 324.3,205.4 325.3,206.8 326.3,208.2 327.3,209.6 328.3,210.9 329.3,212.2 330.3,213.5 331.3,214.8 332.3,216.0 333.3,217.2 334.3,218.4 335.3,219.5 336.3,220.5 337.3,221.5 338.3,222.4 339.3,223.3 340.3,224.0 341.3,224.6 342.3,225.0 343.3,225.4 344.3,225.6 345.3,225.6 346.3,225.5 347.3,225.3 348.3,225.0 349.3,224.6 350.3,224.1 351.3,223.6 352.3,223.0 353.3,222.3 354.3,221.6 355.3,220.8 356.3,220.0 357.3,219.2 358.3,218.3 359.3,217.4 360.3,216.5 361.3,215.6 362.3,214.6 363.3,213.7 364.3,212.7 365.3,211.7 366.3,210.7 367.3,209.7 368.3,208.7 369.3,207.7 370.3,206.7 371.3,205.6 372.3,204.6 373.3,203.6 374.3,202.5 375.3,201.5 376.3,200.4 377.3,199.4 378.3,198.3 379.3,197.3 380.3,196.2 381.3,195.2 382.3,194.1 383.3,193.0 384.3,192.0 385.3,190.9 386.3,189.8 387.3,188.8 388.3,187.7 389.3,186.6 390.3,185.5 391.3,184.5 392.3,183.4 393.3,182.3 394.3,181.2 395.3,180.2 396.3,179.1 397.3,178.0" fill="none" stroke="#20d8e8" stroke-width="0.75"/>
<polyline points="284.3,146.5 285.3,147.7 286.3,148.9 287.3,150.1 288.3,151.3 289.3,152.5 290.3,153.7 291.3,154.9 292.3,156.1 293.3,157.3 294.3,158.4 295.3,159.6 296.3,160.8 297.3,162.0 298.3,163.2 299.3,164.4 300.3,165.6 301.3,166.8 302.3,168.0 303.3,169.2 304.3,170.4 305.3,171.5 306.3,172.7 307.3,173.9 308.3,175.1 309.3,176.3 310.3,177.5 311.3,178.6 312.3,179.8 313.3,181.0 314.3,182.2 315.3,183.3 316.3,184.5 317.3,185.7 318.3,186.9 319.3,188.0 320.3,189.2 321.3,190.4 322.3,191.5 323.3,192.7 324.3,193.8 325.3,195.0 326.3,196.1 327.3,197.3 328.3,198.4 329.3,199.6 330.3,200.7 331.3,201.8 332.3,202.9 333.3,204.0 334.3,205.2 335.3,206.3 336.3,207.3 337.3,208.4 338.3,209.5 339.3,210.5 340.3,211.6 341.3,212.6 342.3,213.6 343.3,214.6 344.3,215.5 345.3,216.5 346.3,217.3 347.3,218.2 348.3,219.0 349.3,219.7 350.3,220.4 351.3,221.0 352.3,221.5 353.3,222.0 354.3,222.3 355.3,222.5 356.3,222.6 357.3,222.6 358.3,222.4 359.3,222.2 360.3,221.8 361.3,221.4 362.3,220.8 363.3,220.2 364.3,219.6 365.3,218.8 366.3,218.0 367.3,217.2 368.3,216.3 369.3,215.4 370.3,214.5 371.3,213.6 372.3,212.6 373.3,211.6 374.3,210.6 375.3,209.6 376.3,208.5 377.3,207.5 378.3,206.4 379.3,205.4 380.3,204.3 381.3,203.2 382.3,202.2 383.3,201.1 384.3,200.0 385.3,198.9 386.3,197.8 387.3,196.7 388.3,195.6 389.3,194.5 390.3,193.4 391.3,192.2 392.3,191.1 393.3,190.0 394.3,188.9 395.3,187.8 396.3,186.6 397.3,185.5" fill="none" stroke="#d8a8a8" stroke-width="0.75"/>
<polyline points="284.3,144.6 285.3,145.7 286.3,146.9 287.3,148.0 288.3,149.1 289.3,150.3 290.3,151.4 291.3,152.6 292.3,153.7 293.3,154.8 294.3,156.0 295.3,157.1 296.3,158.2 297.3,159.4 298.3,160.5 299.3,161.6 300.3,162.8 301.3,163.9 302.3,165.0 303.3,166.1 304.3,167.3 305.3,168.4 306.3,169.5 307.3,170.7 308.3,171.8 309.3,172.9 310.3,174.0 311.3,175.2 312.3,176.3 313.3,177.4 314.3,178.5 315.3,179.7 316.3,180.8 317.3,181.9 318.3,183.0 319.3,184.1 320.3,185.3 321.3,186.4 322.3,187.5 323.3,188.6 324.3,189.7 325.3,190.8 326.3,191.9 327.3,193.0 328.3,194.1 329.3,195.2 330.3,196.3 331.3,197.4 332.3,198.5 333.3,199.6 334.3,200.6 335.3,201.7 336.3,202.8 337.3,203.8 338.3,204.9 339.3,205.9 340.3,207.0 341.3,208.0 342.3,209.0 343.3,210.1 344.3,211.1 345.3,212.0 346.3,213.0 347.3,214.0 348.3,214.9 349.3,215.8 350.3,216.6 351.3,217.5 352.3,218.3 353.3,219.0 354.3,219.7 355.3,220.4 356.3,220.9 357.3,221.4 358.3,221.8 359.3,222.1 360.3,222.3 361.3,222.4 362.3,222.4 363.3,222.2 364.3,222.0 365.3,221.6 366.3,221.1 367.3,220.6 368.3,220.0 369.3,219.3 370.3,218.6 371.3,217.8 372.3,216.9 373.3,216.1 374.3,215.2 375.3,214.3 376.3,213.3 377.3,212.3 378.3,211.4 379.3,210.4 380.3,209.3 381.3,208.3 382.3,207.3 383.3,206.2 384.3,205.2 385.3,204.1 386.3,203.1 387.3,202.0 388.3,200.9 389.3,199.8 390.3,198.7 391.3,197.6 392.3,196.5 393.3,195.4 394.3,194.3 395.3,193.2 396.3,192.1 397.3,191.0" fill="none" stroke="#b8b848" stroke-width="0.75"/>
<rect x="284.6" y="190.8" width="21.6" height="41.2" fill="#000"/>
<rect x="284.3" y="190.5" width="20.4" height="40.2" fill="#fff" stroke="#666" stroke-width="0.3"/>
<line x1="285.6" y1="192.8" x2="293.3" y2="192.8" stroke="#b4b4b4" stroke-width="0.8"/>
<text x="294" y="193.9" font-size="3.1" fill="#222">0.1 ppb</text>
<line x1="285.6" y1="197.3" x2="293.3" y2="197.3" stroke="#f4a0a8" stroke-width="0.8"/>
<text x="294" y="198.4" font-size="3.1" fill="#222">1 ppb</text>
<line x1="285.6" y1="201.8" x2="293.3" y2="201.8" stroke="#6c9ce8" stroke-width="0.8"/>
<text x="294" y="202.9" font-size="3.1" fill="#222">10¹ ppb</text>
<line x1="285.6" y1="206.4" x2="293.3" y2="206.4" stroke="#70d8b8" stroke-width="0.8"/>
<text x="294" y="207.5" font-size="3.1" fill="#222">10² ppb</text>
<line x1="285.6" y1="210.9" x2="293.3" y2="210.9" stroke="#c890e8" stroke-width="0.8"/>
<text x="294" y="212.0" font-size="3.1" fill="#222">10³ ppb</text>
<line x1="285.6" y1="215.4" x2="293.3" y2="215.4" stroke="#e8d890" stroke-width="0.8"/>
<text x="294" y="216.5" font-size="3.1" fill="#222">10⁴ ppb</text>
<line x1="285.6" y1="219.9" x2="293.3" y2="219.9" stroke="#20d8e8" stroke-width="0.8"/>
<text x="294" y="221.0" font-size="3.1" fill="#222">10⁵ ppb</text>
<line x1="285.6" y1="224.4" x2="293.3" y2="224.4" stroke="#d8a8a8" stroke-width="0.8"/>
<text x="294" y="225.5" font-size="3.1" fill="#222">10⁶ ppb</text>
<line x1="285.6" y1="229.0" x2="293.3" y2="229.0" stroke="#b8b848" stroke-width="0.8"/>
<text x="294" y="230.1" font-size="3.1" fill="#222">10⁷ ppb</text>
<text x="401.5" y="148.6" font-size="8" fill="#111">(b)</text>
<rect x="419.4" y="139.6" width="116.1" height="93.7" fill="none" stroke="#444" stroke-width="0.6"/>
<line x1="419.4" y1="222.8" x2="420.9" y2="222.8" stroke="#444" stroke-width="0.5"/>
<text x="417.2" y="224.7" font-size="5.6" text-anchor="end" fill="#222" textLength="7.2" lengthAdjust="spacingAndGlyphs">0.0</text>
<line x1="419.4" y1="204.5" x2="420.9" y2="204.5" stroke="#444" stroke-width="0.5"/>
<text x="417.2" y="206.4" font-size="5.6" text-anchor="end" fill="#222" textLength="7.2" lengthAdjust="spacingAndGlyphs">0.2</text>
<line x1="419.4" y1="186.2" x2="420.9" y2="186.2" stroke="#444" stroke-width="0.5"/>
<text x="417.2" y="188.1" font-size="5.6" text-anchor="end" fill="#222" textLength="7.2" lengthAdjust="spacingAndGlyphs">0.4</text>
<line x1="419.4" y1="167.9" x2="420.9" y2="167.9" stroke="#444" stroke-width="0.5"/>
<text x="417.2" y="169.8" font-size="5.6" text-anchor="end" fill="#222" textLength="7.2" lengthAdjust="spacingAndGlyphs">0.6</text>
<line x1="419.4" y1="149.6" x2="420.9" y2="149.6" stroke="#444" stroke-width="0.5"/>
<text x="417.2" y="151.5" font-size="5.6" text-anchor="end" fill="#222" textLength="7.2" lengthAdjust="spacingAndGlyphs">0.8</text>
<line x1="429.8" y1="233.3" x2="429.8" y2="231.8" stroke="#444" stroke-width="0.5"/>
<text x="426.8" y="240" font-size="5.2" fill="#222" textLength="6" lengthAdjust="spacingAndGlyphs">0.0</text>
<line x1="448.5" y1="233.3" x2="448.5" y2="231.8" stroke="#444" stroke-width="0.5"/>
<text x="440.7" y="240" font-size="5.2" fill="#222" textLength="13.6" lengthAdjust="spacingAndGlyphs">2.0x10</text><text x="454.5" y="237.4" font-size="3.2" fill="#222">6</text>
<line x1="468" y1="233.3" x2="468" y2="231.8" stroke="#444" stroke-width="0.5"/>
<text x="460.2" y="240" font-size="5.2" fill="#222" textLength="13.6" lengthAdjust="spacingAndGlyphs">4.0x10</text><text x="474.0" y="237.4" font-size="3.2" fill="#222">6</text>
<line x1="488.3" y1="233.3" x2="488.3" y2="231.8" stroke="#444" stroke-width="0.5"/>
<text x="480.5" y="240" font-size="5.2" fill="#222" textLength="13.6" lengthAdjust="spacingAndGlyphs">6.0x10</text><text x="494.3" y="237.4" font-size="3.2" fill="#222">6</text>
<line x1="508" y1="233.3" x2="508" y2="231.8" stroke="#444" stroke-width="0.5"/>
<text x="500.2" y="240" font-size="5.2" fill="#222" textLength="13.6" lengthAdjust="spacingAndGlyphs">8.0x10</text><text x="514.0" y="237.4" font-size="3.2" fill="#222">6</text>
<line x1="526.5" y1="233.3" x2="526.5" y2="231.8" stroke="#444" stroke-width="0.5"/>
<text x="518.7" y="240" font-size="5.2" fill="#222" textLength="13.6" lengthAdjust="spacingAndGlyphs">1.0x10</text><text x="532.5" y="237.4" font-size="3.2" fill="#222">7</text>
<text x="449.3" y="250" font-size="5.8" fill="#222" textLength="42" lengthAdjust="spacingAndGlyphs">Concentration of Pb</text>
<text x="491.4" y="247.2" font-size="3.5" fill="#222">2+</text>
<text x="495.3" y="250" font-size="5.8" fill="#222" textLength="11.2" lengthAdjust="spacingAndGlyphs">/ ppb</text>
<text transform="translate(408.4,184.8) rotate(-90)" font-size="5.4" text-anchor="middle" fill="#222" textLength="36.3" lengthAdjust="spacingAndGlyphs">Wavelength shift/ nm</text>
<polyline points="429.6,203 439.3,169.3 525.4,150.2" fill="none" stroke="#333" stroke-width="0.6"/>
<circle cx="439.3" cy="169.3" r="1.1" fill="#111"/>
<circle cx="525.4" cy="150.2" r="1.1" fill="#111"/>
<circle cx="429.6" cy="201.8" r="1.1" fill="#111"/>
<circle cx="429.6" cy="205.4" r="1.1" fill="#111"/>
<circle cx="429.6" cy="208.9" r="1.1" fill="#111"/>
<circle cx="429.6" cy="212.5" r="1.1" fill="#111"/>
<circle cx="429.6" cy="216.0" r="1.1" fill="#111"/>
<circle cx="429.6" cy="219.6" r="1.1" fill="#111"/>
<circle cx="429.6" cy="223.1" r="1.1" fill="#111"/>
<ellipse cx="429.5" cy="212.6" rx="3.9" ry="15" fill="none" stroke="#2233dd" stroke-width="1"/>
<line x1="436" y1="213" x2="447.5" y2="207.2" stroke="#2244e0" stroke-width="1"/>
<path d="M449.6,206.2 L446,206.4 L447.4,209.2 Z" fill="#2244e0"/>
<rect x="421" y="141.6" width="47.6" height="7.4" fill="#111"/>
<rect x="420.3" y="140.8" width="47.2" height="7" fill="#fff" stroke="#333" stroke-width="0.4"/>
<line x1="422" y1="144.3" x2="429.5" y2="144.3" stroke="#333" stroke-width="0.5"/><circle cx="425.7" cy="144.3" r="0.9" fill="#111"/>
<text x="430.3" y="146.4" font-size="5.2" font-style="italic" fill="#222" textLength="36.6" lengthAdjust="spacingAndGlyphs">Experimental date</text>
<rect x="472.6" y="166.2" width="59.1" height="48.0" fill="#fff" stroke="#444" stroke-width="0.5"/>
<line x1="472.6" y1="209.9" x2="473.6" y2="209.9" stroke="#444" stroke-width="0.4"/>
<text x="471.2" y="211.0" font-size="3.2" text-anchor="end" fill="#222" textLength="5.3" lengthAdjust="spacingAndGlyphs">0.00</text>
<line x1="472.6" y1="201.2" x2="473.6" y2="201.2" stroke="#444" stroke-width="0.4"/>
<text x="471.2" y="202.2" font-size="3.2" text-anchor="end" fill="#222" textLength="5.3" lengthAdjust="spacingAndGlyphs">0.05</text>
<line x1="472.6" y1="192.4" x2="473.6" y2="192.4" stroke="#444" stroke-width="0.4"/>
<text x="471.2" y="193.5" font-size="3.2" text-anchor="end" fill="#222" textLength="5.3" lengthAdjust="spacingAndGlyphs">0.10</text>
<line x1="472.6" y1="183.7" x2="473.6" y2="183.7" stroke="#444" stroke-width="0.4"/>
<text x="471.2" y="184.8" font-size="3.2" text-anchor="end" fill="#222" textLength="5.3" lengthAdjust="spacingAndGlyphs">0.15</text>
<line x1="472.6" y1="174.9" x2="473.6" y2="174.9" stroke="#444" stroke-width="0.4"/>
<text x="471.2" y="176.0" font-size="3.2" text-anchor="end" fill="#222" textLength="5.3" lengthAdjust="spacingAndGlyphs">0.20</text>
<line x1="472.6" y1="166.2" x2="473.6" y2="166.2" stroke="#444" stroke-width="0.4"/>
<text x="471.2" y="167.2" font-size="3.2" text-anchor="end" fill="#222" textLength="5.3" lengthAdjust="spacingAndGlyphs">0.25</text>
<line x1="475.5" y1="209.9" x2="530.6" y2="170.9" stroke="#ee2a2a" stroke-width="0.9"/>
<circle cx="475.5" cy="209.9" r="0.8" fill="#111"/>
<text transform="translate(476.7,216.39999999999998) rotate(-45)" font-size="3.2" text-anchor="end" fill="#222" textLength="11.5" lengthAdjust="spacingAndGlyphs">Log(10⁻¹)</text>
<circle cx="484.6" cy="203.5" r="0.8" fill="#111"/>
<text transform="translate(485.8,216.39999999999998) rotate(-45)" font-size="3.2" text-anchor="end" fill="#222" textLength="11.5" lengthAdjust="spacingAndGlyphs">Log(10⁰)</text>
<circle cx="493.7" cy="197.0" r="0.8" fill="#111"/>
<text transform="translate(494.9,216.39999999999998) rotate(-45)" font-size="3.2" text-anchor="end" fill="#222" textLength="11.5" lengthAdjust="spacingAndGlyphs">Log(10¹)</text>
<circle cx="502.7" cy="190.6" r="0.8" fill="#111"/>
<text transform="translate(503.9,216.39999999999998) rotate(-45)" font-size="3.2" text-anchor="end" fill="#222" textLength="11.5" lengthAdjust="spacingAndGlyphs">Log(10²)</text>
<circle cx="511.8" cy="184.1" r="0.8" fill="#111"/>
<text transform="translate(513.0,216.39999999999998) rotate(-45)" font-size="3.2" text-anchor="end" fill="#222" textLength="11.5" lengthAdjust="spacingAndGlyphs">Log(10³)</text>
<circle cx="520.9" cy="177.7" r="0.8" fill="#111"/>
<text transform="translate(522.1,216.39999999999998) rotate(-45)" font-size="3.2" text-anchor="end" fill="#222" textLength="11.5" lengthAdjust="spacingAndGlyphs">Log(10⁴)</text>
<circle cx="530.0" cy="171.2" r="0.8" fill="#111"/>
<text transform="translate(531.2,216.39999999999998) rotate(-45)" font-size="3.2" text-anchor="end" fill="#222" textLength="11.5" lengthAdjust="spacingAndGlyphs">Log(10⁵)</text>
<rect x="474.6" y="168.4" width="31.7" height="7.6" fill="#000"/>
<rect x="473.9" y="167.8" width="31.4" height="7.2" fill="#fff" stroke="#444" stroke-width="0.35"/>
<circle cx="478.7" cy="169.6" r="0.8" fill="#111"/><text x="482.4" y="171" font-size="3.6" fill="#222" textLength="23.2" lengthAdjust="spacingAndGlyphs">Experimental data</text>
<line x1="474.2" y1="173.1" x2="481.9" y2="173.1" stroke="#ee2a2a" stroke-width="0.8"/><text x="482.4" y="174.3" font-size="3.6" fill="#222" textLength="16.4" lengthAdjust="spacingAndGlyphs">Linear fitting</text>
<text x="495.4" y="201.6" font-size="4.2" fill="#222" textLength="35" lengthAdjust="spacingAndGlyphs">y=0.03714x-0.03714</text>
<text x="495.4" y="206.7" font-size="4.2" fill="#222" textLength="15.9" lengthAdjust="spacingAndGlyphs">R²=0.99976</text>
<text x="480.3" y="230.3" font-size="4.8" fill="#222" textLength="29.6" lengthAdjust="spacingAndGlyphs">Concentration of Pb</text><text x="510.1" y="228" font-size="3" fill="#222">2+</text><text x="513.6" y="230.3" font-size="4.8" fill="#222" textLength="9.6" lengthAdjust="spacingAndGlyphs">/ ppb</text>
<text transform="translate(464.3,188.5) rotate(-90)" font-size="4.2" text-anchor="middle" fill="#222" textLength="30" lengthAdjust="spacingAndGlyphs">Wavelength shift/ nm</text>
</svg>
</body></html>
